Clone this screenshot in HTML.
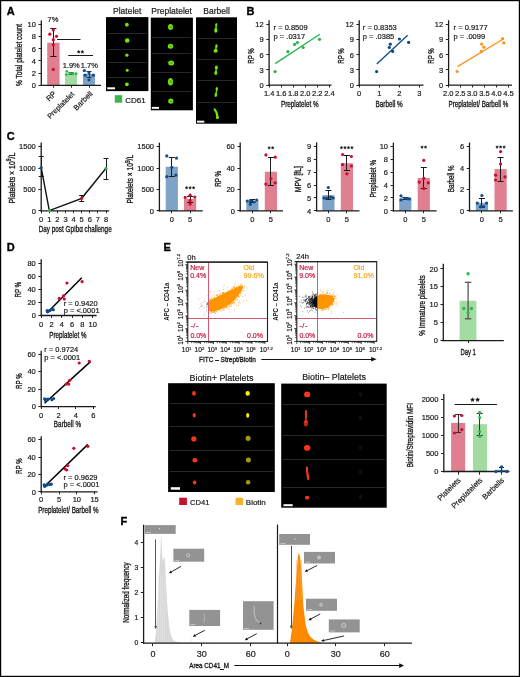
<!DOCTYPE html>
<html><head><meta charset="utf-8"><style>
html,body{margin:0;padding:0;background:#fff;}
svg{display:block;will-change:transform;}
text{font-family:"Liberation Sans",sans-serif;}
</style></head><body>
<svg width="520" height="677" viewBox="0 0 520 677" font-family="Liberation Sans, sans-serif" fill="#1a1a1a">
<defs><filter id="bl" x="-50%" y="-50%" width="200%" height="200%"><feGaussianBlur stdDeviation="0.35"/></filter></defs>
<rect x="0" y="0" width="520" height="677" fill="#fff"/>
<text x="6.8" y="15.2" font-size="11" fill="#000" font-weight="bold" stroke="#000" stroke-width="0.35">A</text>
<line x1="41.3" y1="20.4" x2="41.3" y2="85.95" stroke="#1a1a1a" stroke-width="1.3"/>
<line x1="38.5" y1="85.5" x2="41.3" y2="85.5" stroke="#222" stroke-width="1"/>
<text x="35.9" y="88" font-size="7.5" text-anchor="end" stroke="#1a1a1a" stroke-width="0.2">0</text>
<line x1="38.5" y1="73.5" x2="41.3" y2="73.5" stroke="#222" stroke-width="1"/>
<text x="35.9" y="75.84" font-size="7.5" text-anchor="end" stroke="#1a1a1a" stroke-width="0.2">2</text>
<line x1="38.5" y1="60.5" x2="41.3" y2="60.5" stroke="#222" stroke-width="1"/>
<text x="35.9" y="63.68" font-size="7.5" text-anchor="end" stroke="#1a1a1a" stroke-width="0.2">4</text>
<line x1="38.5" y1="48.5" x2="41.3" y2="48.5" stroke="#222" stroke-width="1"/>
<text x="35.9" y="51.52" font-size="7.5" text-anchor="end" stroke="#1a1a1a" stroke-width="0.2">6</text>
<line x1="38.5" y1="36.5" x2="41.3" y2="36.5" stroke="#222" stroke-width="1"/>
<text x="35.9" y="39.36" font-size="7.5" text-anchor="end" stroke="#1a1a1a" stroke-width="0.2">8</text>
<line x1="38.5" y1="24.5" x2="41.3" y2="24.5" stroke="#222" stroke-width="1"/>
<text x="35.9" y="27.2" font-size="7.5" text-anchor="end" stroke="#1a1a1a" stroke-width="0.2">10</text>
<text transform="translate(22 55) rotate(-90) scale(0.726 1)" font-size="9" text-anchor="middle" stroke="#1a1a1a" stroke-width="0.35">% Total platelet count</text>
<rect x="47.2" y="42.74" width="12.4" height="42.56" fill="#e07f8f"/>
<rect x="65" y="73.44" width="12" height="11.86" fill="#a3dca3"/>
<rect x="83" y="74.05" width="12" height="11.25" fill="#7fa3c6"/>
<line x1="40.65" y1="85.3" x2="101" y2="85.3" stroke="#1a1a1a" stroke-width="1.3"/>
<line x1="53.5" y1="85.3" x2="53.5" y2="87.7" stroke="#222" stroke-width="1"/>
<line x1="71.5" y1="85.3" x2="71.5" y2="87.7" stroke="#222" stroke-width="1"/>
<line x1="89.5" y1="85.3" x2="89.5" y2="87.7" stroke="#222" stroke-width="1"/>
<line x1="53.5" y1="28.6" x2="53.5" y2="56.5" stroke="#1a1a1a" stroke-width="1"/>
<line x1="50.3" y1="28.5" x2="56.5" y2="28.5" stroke="#1a1a1a" stroke-width="1"/>
<line x1="50.3" y1="56.5" x2="56.5" y2="56.5" stroke="#1a1a1a" stroke-width="1"/>
<line x1="71.5" y1="72.6" x2="71.5" y2="74.8" stroke="#444" stroke-width="1"/>
<line x1="68.5" y1="72.5" x2="73.5" y2="72.5" stroke="#444" stroke-width="1"/>
<line x1="68.5" y1="74.5" x2="73.5" y2="74.5" stroke="#444" stroke-width="1"/>
<line x1="89.5" y1="71.4" x2="89.5" y2="77.6" stroke="#333" stroke-width="1"/>
<line x1="86.5" y1="71.5" x2="91.5" y2="71.5" stroke="#333" stroke-width="1"/>
<line x1="86.5" y1="77.5" x2="91.5" y2="77.5" stroke="#333" stroke-width="1"/>
<circle cx="53.3" cy="29.9" r="1.6" fill="#cc0a2f"/>
<circle cx="49.8" cy="34.2" r="1.6" fill="#cc0a2f"/>
<circle cx="56.5" cy="36.3" r="1.6" fill="#cc0a2f"/>
<circle cx="53.3" cy="39.7" r="1.6" fill="#cc0a2f"/>
<circle cx="53.3" cy="44.8" r="1.6" fill="#cc0a2f"/>
<circle cx="53.3" cy="69.4" r="1.6" fill="#cc0a2f"/>
<circle cx="66.8" cy="71.4" r="1.47" fill="#2fb84c"/>
<circle cx="66.3" cy="74.6" r="1.47" fill="#2fb84c"/>
<circle cx="70.2" cy="73.4" r="1.47" fill="#2fb84c"/>
<circle cx="73" cy="73.7" r="1.47" fill="#2fb84c"/>
<circle cx="76" cy="73.7" r="1.47" fill="#2fb84c"/>
<circle cx="84.4" cy="70.6" r="1.6" fill="#0f4c8a"/>
<circle cx="89" cy="72.9" r="1.6" fill="#0f4c8a"/>
<circle cx="85.2" cy="75.2" r="1.6" fill="#0f4c8a"/>
<circle cx="93.3" cy="75.2" r="1.6" fill="#0f4c8a"/>
<circle cx="89" cy="79.8" r="1.6" fill="#0f4c8a"/>
<line x1="57" y1="39.5" x2="80.5" y2="39.5" stroke="#1a1a1a" stroke-width="1"/>
<line x1="68.3" y1="55.5" x2="93" y2="55.5" stroke="#1a1a1a" stroke-width="1"/>
<path d="M78.70 50.25L79.17 51.20L80.22 51.36L79.46 52.10L79.64 53.14L78.70 52.65L77.76 53.14L77.94 52.10L77.18 51.36L78.23 51.20ZM82.40 50.25L82.87 51.20L83.92 51.36L83.16 52.10L83.34 53.14L82.40 52.65L81.46 53.14L81.64 52.10L80.88 51.36L81.93 51.20Z" fill="#111" stroke="#111" stroke-width="0.4"/>
<text x="53" y="21.6" font-size="7.5" text-anchor="middle" stroke="#1a1a1a" stroke-width="0.2">7%</text>
<text x="71.2" y="68" font-size="7.5" text-anchor="middle" stroke="#1a1a1a" stroke-width="0.2">1.9%</text>
<text x="89.4" y="68" font-size="7.5" text-anchor="middle" stroke="#1a1a1a" stroke-width="0.2">1.7%</text>
<text transform="translate(56.8 94.2) rotate(-45)" font-size="7.8" text-anchor="end" stroke="#1a1a1a" stroke-width="0.2">RP</text>
<text transform="translate(74.8 94.6) rotate(-45)" font-size="7.3" text-anchor="end" stroke="#1a1a1a" stroke-width="0.2">Preplatelet</text>
<text transform="translate(93.2 94.2) rotate(-45)" font-size="7.6" text-anchor="end" stroke="#1a1a1a" stroke-width="0.2">Barbell</text>
<text x="127.2" y="14.2" font-size="8.5" text-anchor="middle" stroke="#1a1a1a" stroke-width="0.2">Platelet</text>
<text x="171.6" y="14.2" font-size="8.5" text-anchor="middle" stroke="#1a1a1a" stroke-width="0.2">Preplatelet</text>
<text x="216.6" y="14.2" font-size="8.5" text-anchor="middle" stroke="#1a1a1a" stroke-width="0.2">Barbell</text>
<rect x="106" y="17.1" width="42.4" height="74" fill="#000"/>
<line x1="107.5" y1="33.5" x2="146.9" y2="33.5" stroke="#262626" stroke-width="1"/>
<line x1="107.5" y1="49.5" x2="146.9" y2="49.5" stroke="#262626" stroke-width="1"/>
<line x1="107.5" y1="62.5" x2="146.9" y2="62.5" stroke="#262626" stroke-width="1"/>
<line x1="107.5" y1="77.5" x2="146.9" y2="77.5" stroke="#262626" stroke-width="1"/>
<rect x="107.2" y="87.3" width="7.8" height="2" fill="#fff"/>
<rect x="150.8" y="17.6" width="42.1" height="92.7" fill="#000"/>
<line x1="152.3" y1="37.5" x2="191.4" y2="37.5" stroke="#262626" stroke-width="1"/>
<line x1="152.3" y1="53.5" x2="191.4" y2="53.5" stroke="#262626" stroke-width="1"/>
<line x1="152.3" y1="72.5" x2="191.4" y2="72.5" stroke="#262626" stroke-width="1"/>
<line x1="152.3" y1="91.5" x2="191.4" y2="91.5" stroke="#262626" stroke-width="1"/>
<rect x="151.8" y="106.9" width="7.2" height="1.9" fill="#fff"/>
<rect x="196" y="17.3" width="41" height="106.4" fill="#000"/>
<line x1="197.5" y1="38.5" x2="235.5" y2="38.5" stroke="#262626" stroke-width="1"/>
<line x1="197.5" y1="59.5" x2="235.5" y2="59.5" stroke="#262626" stroke-width="1"/>
<line x1="197.5" y1="80.5" x2="235.5" y2="80.5" stroke="#262626" stroke-width="1"/>
<line x1="197.5" y1="102.5" x2="235.5" y2="102.5" stroke="#262626" stroke-width="1"/>
<rect x="197" y="120.7" width="7.3" height="1.9" fill="#fff"/>
<ellipse cx="126.9" cy="24.7" rx="1.9" ry="1.9" fill="#74e600" filter="url(#bl)"/>
<ellipse cx="127.2" cy="40.5" rx="2.3" ry="2.3" fill="#74e600" filter="url(#bl)"/>
<ellipse cx="126.9" cy="55.2" rx="1.6" ry="1.6" fill="#74e600" filter="url(#bl)"/>
<ellipse cx="127.2" cy="70.3" rx="1.5" ry="1.5" fill="#74e600" filter="url(#bl)"/>
<ellipse cx="126.9" cy="84.3" rx="1.9" ry="1.9" fill="#74e600" filter="url(#bl)"/>
<ellipse cx="170.5" cy="27" rx="2.5" ry="2.9" fill="#74e600" filter="url(#bl)"/>
<ellipse cx="170.7" cy="27.1" rx="1.12" ry="1.3" fill="#4fb000" filter="url(#bl)"/>
<ellipse cx="170.5" cy="46.2" rx="2.7" ry="2.5" fill="#74e600" filter="url(#bl)"/>
<ellipse cx="170.7" cy="46.3" rx="1.22" ry="1.12" fill="#4fb000" filter="url(#bl)"/>
<ellipse cx="171.2" cy="62.9" rx="2.9" ry="2.5" fill="#74e600" filter="url(#bl)"/>
<ellipse cx="171.4" cy="63" rx="1.3" ry="1.12" fill="#4fb000" filter="url(#bl)"/>
<ellipse cx="170.5" cy="81.7" rx="2.5" ry="3.8" fill="#74e600" filter="url(#bl)"/>
<ellipse cx="170.7" cy="81.8" rx="1.12" ry="1.71" fill="#4fb000" filter="url(#bl)"/>
<ellipse cx="170.8" cy="101.1" rx="2.6" ry="2.6" fill="#74e600" filter="url(#bl)"/>
<ellipse cx="171" cy="101.2" rx="1.17" ry="1.17" fill="#4fb000" filter="url(#bl)"/>
<line x1="167.5" y1="62" x2="170" y2="63.2" stroke="#74e600" stroke-width="0.8" filter="url(#bl)"/>
<g filter="url(#bl)">
<ellipse cx="216.3" cy="24.6" rx="1" ry="1.7" fill="#74e600"/>
<ellipse cx="215.8" cy="30.4" rx="1.6" ry="2.3" fill="#74e600"/>
<line x1="216.3" y1="24.6" x2="215.8" y2="30.4" stroke="#74e600" stroke-width="1.5"/>
</g>
<g filter="url(#bl)">
<ellipse cx="216.4" cy="46" rx="1.2" ry="1.7" fill="#74e600"/>
<ellipse cx="215.6" cy="50.9" rx="2.1" ry="1.8" fill="#74e600"/>
<line x1="216.4" y1="46" x2="215.6" y2="50.9" stroke="#74e600" stroke-width="1.5"/>
</g>
<g filter="url(#bl)">
<ellipse cx="216.4" cy="67.4" rx="1.5" ry="2" fill="#74e600"/>
<ellipse cx="215.8" cy="72.9" rx="1.5" ry="2" fill="#74e600"/>
<line x1="216.4" y1="67.4" x2="215.8" y2="72.9" stroke="#74e600" stroke-width="1.4"/>
</g>
<g filter="url(#bl)">
<ellipse cx="216.8" cy="88.8" rx="1.2" ry="1.9" fill="#74e600"/>
<ellipse cx="215.8" cy="95" rx="1.3" ry="2.1" fill="#74e600"/>
<line x1="216.8" y1="88.8" x2="215.8" y2="95" stroke="#74e600" stroke-width="1.3"/>
</g>
<path d="M214.6 109.4 Q217.6 112.8 217.3 117.6" fill="none" stroke="#74e600" stroke-width="2.1" stroke-linecap="round" filter="url(#bl)"/>
<ellipse cx="217.4" cy="117.4" rx="1.5" ry="1.7" fill="#74e600" filter="url(#bl)"/>
<rect x="114.8" y="95.2" width="7.4" height="7.5" fill="#3cb44b"/>
<text x="125.2" y="102.6" font-size="8" stroke="#1a1a1a" stroke-width="0.2">CD61</text>
<text x="246.6" y="14.9" font-size="11" fill="#000" font-weight="bold" stroke="#000" stroke-width="0.35">B</text>
<line x1="269.1" y1="20.2" x2="269.1" y2="85.75" stroke="#1a1a1a" stroke-width="1.3"/>
<line x1="266.3" y1="85.5" x2="269.1" y2="85.5" stroke="#222" stroke-width="1"/>
<text x="263.7" y="87.8" font-size="7.5" text-anchor="end" stroke="#1a1a1a" stroke-width="0.2">0</text>
<line x1="266.3" y1="69.5" x2="269.1" y2="69.5" stroke="#222" stroke-width="1"/>
<text x="263.7" y="72.65" font-size="7.5" text-anchor="end" stroke="#1a1a1a" stroke-width="0.2">3</text>
<line x1="266.3" y1="54.5" x2="269.1" y2="54.5" stroke="#222" stroke-width="1"/>
<text x="263.7" y="57.5" font-size="7.5" text-anchor="end" stroke="#1a1a1a" stroke-width="0.2">6</text>
<line x1="266.3" y1="39.5" x2="269.1" y2="39.5" stroke="#222" stroke-width="1"/>
<text x="263.7" y="42.35" font-size="7.5" text-anchor="end" stroke="#1a1a1a" stroke-width="0.2">9</text>
<line x1="266.3" y1="24.5" x2="269.1" y2="24.5" stroke="#222" stroke-width="1"/>
<text x="263.7" y="27.2" font-size="7.5" text-anchor="end" stroke="#1a1a1a" stroke-width="0.2">12</text>
<line x1="268.45" y1="85.1" x2="331.5" y2="85.1" stroke="#1a1a1a" stroke-width="1.3"/>
<line x1="269.5" y1="85.1" x2="269.5" y2="87.5" stroke="#222" stroke-width="1"/>
<text x="269.1" y="96.2" font-size="7.5" text-anchor="middle" stroke="#1a1a1a" stroke-width="0.2">1.4</text>
<line x1="281.5" y1="85.1" x2="281.5" y2="87.5" stroke="#222" stroke-width="1"/>
<text x="281.15" y="96.2" font-size="7.5" text-anchor="middle" stroke="#1a1a1a" stroke-width="0.2">1.6</text>
<line x1="293.5" y1="85.1" x2="293.5" y2="87.5" stroke="#222" stroke-width="1"/>
<text x="293.2" y="96.2" font-size="7.5" text-anchor="middle" stroke="#1a1a1a" stroke-width="0.2">1.8</text>
<line x1="305.5" y1="85.1" x2="305.5" y2="87.5" stroke="#222" stroke-width="1"/>
<text x="305.25" y="96.2" font-size="7.5" text-anchor="middle" stroke="#1a1a1a" stroke-width="0.2">2.0</text>
<line x1="317.5" y1="85.1" x2="317.5" y2="87.5" stroke="#222" stroke-width="1"/>
<text x="317.3" y="96.2" font-size="7.5" text-anchor="middle" stroke="#1a1a1a" stroke-width="0.2">2.2</text>
<line x1="329.5" y1="85.1" x2="329.5" y2="87.5" stroke="#222" stroke-width="1"/>
<text x="329.35" y="96.2" font-size="7.5" text-anchor="middle" stroke="#1a1a1a" stroke-width="0.2">2.4</text>
<text transform="translate(254.1 56) rotate(-90) scale(0.640 1)" font-size="9.6" text-anchor="middle" stroke="#1a1a1a" stroke-width="0.35">RP %</text>
<text transform="translate(299.75 107.1) scale(0.704 1)" font-size="9" text-anchor="middle" stroke="#1a1a1a" stroke-width="0.35">Preplatelet %</text>
<line x1="275.2" y1="63.6" x2="319.8" y2="34.3" stroke="#2ab34a" stroke-width="1.3"/>
<circle cx="275.1" cy="71.6" r="1.6" fill="#2ab34a"/>
<circle cx="287.9" cy="51.7" r="1.6" fill="#2ab34a"/>
<circle cx="294.6" cy="44.4" r="1.6" fill="#2ab34a"/>
<circle cx="297.4" cy="42.5" r="1.6" fill="#2ab34a"/>
<circle cx="303.2" cy="47.5" r="1.6" fill="#2ab34a"/>
<circle cx="319.5" cy="39.3" r="1.6" fill="#2ab34a"/>
<text x="273.6" y="29.6" font-size="7.5" stroke="#1a1a1a" stroke-width="0.2">r = 0.8509</text>
<text x="273.6" y="39.4" font-size="7.5" stroke="#1a1a1a" stroke-width="0.2">p = .0317</text>
<line x1="359.2" y1="20.2" x2="359.2" y2="85.75" stroke="#1a1a1a" stroke-width="1.3"/>
<line x1="356.4" y1="85.5" x2="359.2" y2="85.5" stroke="#222" stroke-width="1"/>
<text x="353.8" y="87.8" font-size="7.5" text-anchor="end" stroke="#1a1a1a" stroke-width="0.2">0</text>
<line x1="356.4" y1="69.5" x2="359.2" y2="69.5" stroke="#222" stroke-width="1"/>
<text x="353.8" y="72.65" font-size="7.5" text-anchor="end" stroke="#1a1a1a" stroke-width="0.2">3</text>
<line x1="356.4" y1="54.5" x2="359.2" y2="54.5" stroke="#222" stroke-width="1"/>
<text x="353.8" y="57.5" font-size="7.5" text-anchor="end" stroke="#1a1a1a" stroke-width="0.2">6</text>
<line x1="356.4" y1="39.5" x2="359.2" y2="39.5" stroke="#222" stroke-width="1"/>
<text x="353.8" y="42.35" font-size="7.5" text-anchor="end" stroke="#1a1a1a" stroke-width="0.2">9</text>
<line x1="356.4" y1="24.5" x2="359.2" y2="24.5" stroke="#222" stroke-width="1"/>
<text x="353.8" y="27.2" font-size="7.5" text-anchor="end" stroke="#1a1a1a" stroke-width="0.2">12</text>
<line x1="358.55" y1="85.1" x2="423.5" y2="85.1" stroke="#1a1a1a" stroke-width="1.3"/>
<line x1="359.5" y1="85.1" x2="359.5" y2="87.5" stroke="#222" stroke-width="1"/>
<text x="359.2" y="96.2" font-size="7.5" text-anchor="middle" stroke="#1a1a1a" stroke-width="0.2">0</text>
<line x1="379.5" y1="85.1" x2="379.5" y2="87.5" stroke="#222" stroke-width="1"/>
<text x="379.25" y="96.2" font-size="7.5" text-anchor="middle" stroke="#1a1a1a" stroke-width="0.2">1</text>
<line x1="399.5" y1="85.1" x2="399.5" y2="87.5" stroke="#222" stroke-width="1"/>
<text x="399.3" y="96.2" font-size="7.5" text-anchor="middle" stroke="#1a1a1a" stroke-width="0.2">2</text>
<line x1="419.5" y1="85.1" x2="419.5" y2="87.5" stroke="#222" stroke-width="1"/>
<text x="419.35" y="96.2" font-size="7.5" text-anchor="middle" stroke="#1a1a1a" stroke-width="0.2">3</text>
<text transform="translate(344.2 56) rotate(-90) scale(0.640 1)" font-size="9.6" text-anchor="middle" stroke="#1a1a1a" stroke-width="0.35">RP %</text>
<text transform="translate(389.15 107.1) scale(0.709 1)" font-size="9" text-anchor="middle" stroke="#1a1a1a" stroke-width="0.35">Barbell %</text>
<line x1="376.8" y1="63.9" x2="407.6" y2="35.3" stroke="#0c4d8d" stroke-width="1.3"/>
<circle cx="376.6" cy="71.6" r="1.6" fill="#0c4d8d"/>
<circle cx="389.3" cy="47.4" r="1.6" fill="#0c4d8d"/>
<circle cx="390.3" cy="44.2" r="1.6" fill="#0c4d8d"/>
<circle cx="392.7" cy="51.4" r="1.6" fill="#0c4d8d"/>
<circle cx="399.4" cy="39" r="1.6" fill="#0c4d8d"/>
<circle cx="408.6" cy="42.4" r="1.6" fill="#0c4d8d"/>
<text x="362.8" y="29.6" font-size="7.5" stroke="#1a1a1a" stroke-width="0.2">r = 0.8353</text>
<text x="362.8" y="39.4" font-size="7.5" stroke="#1a1a1a" stroke-width="0.2">p = .0385</text>
<line x1="448.6" y1="20.2" x2="448.6" y2="85.75" stroke="#1a1a1a" stroke-width="1.3"/>
<line x1="445.8" y1="85.5" x2="448.6" y2="85.5" stroke="#222" stroke-width="1"/>
<text x="443.2" y="87.8" font-size="7.5" text-anchor="end" stroke="#1a1a1a" stroke-width="0.2">0</text>
<line x1="445.8" y1="69.5" x2="448.6" y2="69.5" stroke="#222" stroke-width="1"/>
<text x="443.2" y="72.65" font-size="7.5" text-anchor="end" stroke="#1a1a1a" stroke-width="0.2">3</text>
<line x1="445.8" y1="54.5" x2="448.6" y2="54.5" stroke="#222" stroke-width="1"/>
<text x="443.2" y="57.5" font-size="7.5" text-anchor="end" stroke="#1a1a1a" stroke-width="0.2">6</text>
<line x1="445.8" y1="39.5" x2="448.6" y2="39.5" stroke="#222" stroke-width="1"/>
<text x="443.2" y="42.35" font-size="7.5" text-anchor="end" stroke="#1a1a1a" stroke-width="0.2">9</text>
<line x1="445.8" y1="24.5" x2="448.6" y2="24.5" stroke="#222" stroke-width="1"/>
<text x="443.2" y="27.2" font-size="7.5" text-anchor="end" stroke="#1a1a1a" stroke-width="0.2">12</text>
<line x1="447.95" y1="85.1" x2="512" y2="85.1" stroke="#1a1a1a" stroke-width="1.3"/>
<line x1="448.5" y1="85.1" x2="448.5" y2="87.5" stroke="#222" stroke-width="1"/>
<text x="448.2" y="96.2" font-size="7.5" text-anchor="middle" stroke="#1a1a1a" stroke-width="0.2">2.0</text>
<line x1="460.5" y1="85.1" x2="460.5" y2="87.5" stroke="#222" stroke-width="1"/>
<text x="460.27" y="96.2" font-size="7.5" text-anchor="middle" stroke="#1a1a1a" stroke-width="0.2">2.5</text>
<line x1="472.5" y1="85.1" x2="472.5" y2="87.5" stroke="#222" stroke-width="1"/>
<text x="472.34" y="96.2" font-size="7.5" text-anchor="middle" stroke="#1a1a1a" stroke-width="0.2">3.0</text>
<line x1="484.5" y1="85.1" x2="484.5" y2="87.5" stroke="#222" stroke-width="1"/>
<text x="484.41" y="96.2" font-size="7.5" text-anchor="middle" stroke="#1a1a1a" stroke-width="0.2">3.5</text>
<line x1="496.5" y1="85.1" x2="496.5" y2="87.5" stroke="#222" stroke-width="1"/>
<text x="496.48" y="96.2" font-size="7.5" text-anchor="middle" stroke="#1a1a1a" stroke-width="0.2">4.0</text>
<line x1="508.5" y1="85.1" x2="508.5" y2="87.5" stroke="#222" stroke-width="1"/>
<text x="508.55" y="96.2" font-size="7.5" text-anchor="middle" stroke="#1a1a1a" stroke-width="0.2">4.5</text>
<text transform="translate(433.6 56) rotate(-90) scale(0.640 1)" font-size="9.6" text-anchor="middle" stroke="#1a1a1a" stroke-width="0.35">RP %</text>
<text transform="translate(478.35 107.1) scale(0.692 1)" font-size="9" text-anchor="middle" stroke="#1a1a1a" stroke-width="0.35">Preplatelet/ Barbell %</text>
<line x1="457.4" y1="66.6" x2="502.9" y2="39.2" stroke="#f7931e" stroke-width="1.3"/>
<circle cx="457.1" cy="71.5" r="1.6" fill="#f7931e"/>
<circle cx="481.3" cy="51.3" r="1.6" fill="#f7931e"/>
<circle cx="481.6" cy="44.1" r="1.6" fill="#f7931e"/>
<circle cx="483.8" cy="47.2" r="1.6" fill="#f7931e"/>
<circle cx="502.6" cy="38.7" r="1.6" fill="#f7931e"/>
<circle cx="503.8" cy="42.8" r="1.6" fill="#f7931e"/>
<text x="453.6" y="29.6" font-size="7.5" stroke="#1a1a1a" stroke-width="0.2">r = 0.9177</text>
<text x="453.6" y="39.4" font-size="7.5" stroke="#1a1a1a" stroke-width="0.2">p = .0099</text>
<text x="6.8" y="139.5" font-size="11" fill="#000" font-weight="bold" stroke="#000" stroke-width="0.35">C</text>
<line x1="41.2" y1="142.6" x2="41.2" y2="211.45" stroke="#1a1a1a" stroke-width="1.3"/>
<line x1="38.4" y1="210.5" x2="41.2" y2="210.5" stroke="#222" stroke-width="1"/>
<text x="35.8" y="213.5" font-size="7.5" text-anchor="end" stroke="#1a1a1a" stroke-width="0.2">0</text>
<line x1="38.4" y1="189.5" x2="41.2" y2="189.5" stroke="#222" stroke-width="1"/>
<text x="35.8" y="192.1" font-size="7.5" text-anchor="end" stroke="#1a1a1a" stroke-width="0.2">500</text>
<line x1="38.4" y1="168.5" x2="41.2" y2="168.5" stroke="#222" stroke-width="1"/>
<text x="35.8" y="170.7" font-size="7.5" text-anchor="end" stroke="#1a1a1a" stroke-width="0.2">1000</text>
<line x1="38.4" y1="146.5" x2="41.2" y2="146.5" stroke="#222" stroke-width="1"/>
<text x="35.8" y="149.3" font-size="7.5" text-anchor="end" stroke="#1a1a1a" stroke-width="0.2">1500</text>
<line x1="40.55" y1="210.8" x2="109.2" y2="210.8" stroke="#1a1a1a" stroke-width="1.3"/>
<line x1="41.5" y1="210.8" x2="41.5" y2="213.2" stroke="#222" stroke-width="1"/>
<text x="41.2" y="221.5" font-size="7.5" text-anchor="middle" stroke="#1a1a1a" stroke-width="0.2">0</text>
<line x1="49.5" y1="210.8" x2="49.5" y2="213.2" stroke="#222" stroke-width="1"/>
<text x="49.3" y="221.5" font-size="7.5" text-anchor="middle" stroke="#1a1a1a" stroke-width="0.2">1</text>
<line x1="57.5" y1="210.8" x2="57.5" y2="213.2" stroke="#222" stroke-width="1"/>
<text x="57.4" y="221.5" font-size="7.5" text-anchor="middle" stroke="#1a1a1a" stroke-width="0.2">2</text>
<line x1="65.5" y1="210.8" x2="65.5" y2="213.2" stroke="#222" stroke-width="1"/>
<text x="65.5" y="221.5" font-size="7.5" text-anchor="middle" stroke="#1a1a1a" stroke-width="0.2">3</text>
<line x1="73.5" y1="210.8" x2="73.5" y2="213.2" stroke="#222" stroke-width="1"/>
<text x="73.6" y="221.5" font-size="7.5" text-anchor="middle" stroke="#1a1a1a" stroke-width="0.2">4</text>
<line x1="81.5" y1="210.8" x2="81.5" y2="213.2" stroke="#222" stroke-width="1"/>
<text x="81.7" y="221.5" font-size="7.5" text-anchor="middle" stroke="#1a1a1a" stroke-width="0.2">5</text>
<line x1="89.5" y1="210.8" x2="89.5" y2="213.2" stroke="#222" stroke-width="1"/>
<text x="89.8" y="221.5" font-size="7.5" text-anchor="middle" stroke="#1a1a1a" stroke-width="0.2">6</text>
<line x1="97.5" y1="210.8" x2="97.5" y2="213.2" stroke="#222" stroke-width="1"/>
<text x="97.9" y="221.5" font-size="7.5" text-anchor="middle" stroke="#1a1a1a" stroke-width="0.2">7</text>
<line x1="106.5" y1="210.8" x2="106.5" y2="213.2" stroke="#222" stroke-width="1"/>
<text x="106" y="221.5" font-size="7.5" text-anchor="middle" stroke="#1a1a1a" stroke-width="0.2">8</text>
<text transform="translate(75.2 232.2) scale(0.704 1)" font-size="9" text-anchor="middle" stroke="#1a1a1a" stroke-width="0.35">Day post GpIb&#945; challenge</text>
<text transform="translate(14.6 178.1) rotate(-90) scale(0.774 1)" font-size="9" text-anchor="middle" stroke="#1a1a1a" stroke-width="0.35">Platelets &#215; 10<tspan font-size="6.5" dy="-3.4">9</tspan><tspan dy="3.4">/L</tspan></text>
<line x1="41.5" y1="156.4" x2="41.5" y2="176" stroke="#1a1a1a" stroke-width="1"/>
<line x1="38.7" y1="156.5" x2="43.7" y2="156.5" stroke="#1a1a1a" stroke-width="1"/>
<line x1="38.7" y1="176.5" x2="43.7" y2="176.5" stroke="#1a1a1a" stroke-width="1"/>
<line x1="81.5" y1="195" x2="81.5" y2="201.6" stroke="#1a1a1a" stroke-width="1"/>
<line x1="79.2" y1="195.5" x2="84.2" y2="195.5" stroke="#1a1a1a" stroke-width="1"/>
<line x1="79.2" y1="201.5" x2="84.2" y2="201.5" stroke="#1a1a1a" stroke-width="1"/>
<line x1="106.5" y1="158" x2="106.5" y2="179" stroke="#1a1a1a" stroke-width="1"/>
<line x1="103.5" y1="158.5" x2="108.5" y2="158.5" stroke="#1a1a1a" stroke-width="1"/>
<line x1="103.5" y1="179.5" x2="108.5" y2="179.5" stroke="#1a1a1a" stroke-width="1"/>
<path d="M41.2 167.7 L49.3 210.6 L81.7 198.3 L106 168.3" fill="none" stroke="#111" stroke-width="1.4"/>
<circle cx="41.2" cy="167.7" r="1.6" fill="#0f4c8a"/>
<circle cx="49.3" cy="210.6" r="1.6" fill="#2fb84c"/>
<circle cx="81.7" cy="198.3" r="1.6" fill="#cc0a2f"/>
<circle cx="106" cy="168.3" r="1.6" fill="#2fb84c"/>
<line x1="159.4" y1="142.6" x2="159.4" y2="211.45" stroke="#1a1a1a" stroke-width="1.3"/>
<line x1="156.6" y1="210.5" x2="159.4" y2="210.5" stroke="#222" stroke-width="1"/>
<text x="154" y="213.5" font-size="7.5" text-anchor="end" stroke="#1a1a1a" stroke-width="0.2">0</text>
<line x1="156.6" y1="189.5" x2="159.4" y2="189.5" stroke="#222" stroke-width="1"/>
<text x="154" y="192.1" font-size="7.5" text-anchor="end" stroke="#1a1a1a" stroke-width="0.2">500</text>
<line x1="156.6" y1="168.5" x2="159.4" y2="168.5" stroke="#222" stroke-width="1"/>
<text x="154" y="170.7" font-size="7.5" text-anchor="end" stroke="#1a1a1a" stroke-width="0.2">1000</text>
<line x1="156.6" y1="146.5" x2="159.4" y2="146.5" stroke="#222" stroke-width="1"/>
<text x="154" y="149.3" font-size="7.5" text-anchor="end" stroke="#1a1a1a" stroke-width="0.2">1500</text>
<rect x="165.7" y="166.72" width="12.2" height="44.08" fill="#7fa3c6"/>
<rect x="184" y="198.82" width="12.2" height="11.98" fill="#e07f8f"/>
<line x1="158.75" y1="210.8" x2="202.8" y2="210.8" stroke="#1a1a1a" stroke-width="1.3"/>
<line x1="171.5" y1="210.8" x2="171.5" y2="213.2" stroke="#222" stroke-width="1"/>
<text x="171.8" y="221.8" font-size="7.5" text-anchor="middle" stroke="#1a1a1a" stroke-width="0.2">0</text>
<line x1="190.5" y1="210.8" x2="190.5" y2="213.2" stroke="#222" stroke-width="1"/>
<text x="190.1" y="221.8" font-size="7.5" text-anchor="middle" stroke="#1a1a1a" stroke-width="0.2">5</text>
<line x1="171.5" y1="157.09" x2="171.5" y2="176.56" stroke="#1a1a1a" stroke-width="1"/>
<line x1="168.8" y1="157.5" x2="174.8" y2="157.5" stroke="#1a1a1a" stroke-width="1"/>
<line x1="168.8" y1="176.5" x2="174.8" y2="176.5" stroke="#1a1a1a" stroke-width="1"/>
<line x1="190.5" y1="196.25" x2="190.5" y2="202.03" stroke="#1a1a1a" stroke-width="1"/>
<line x1="187.1" y1="196.5" x2="193.1" y2="196.5" stroke="#1a1a1a" stroke-width="1"/>
<line x1="187.1" y1="202.5" x2="193.1" y2="202.5" stroke="#1a1a1a" stroke-width="1"/>
<circle cx="166.8" cy="155.9" r="1.6" fill="#0f4c8a"/>
<circle cx="176.5" cy="158.1" r="1.6" fill="#0f4c8a"/>
<circle cx="171.8" cy="167.3" r="1.6" fill="#0f4c8a"/>
<circle cx="166.8" cy="176.7" r="1.6" fill="#0f4c8a"/>
<circle cx="175.9" cy="175.1" r="1.6" fill="#0f4c8a"/>
<circle cx="190.1" cy="195.2" r="1.6" fill="#cc0a2f"/>
<circle cx="185.2" cy="197.4" r="1.6" fill="#cc0a2f"/>
<circle cx="194.8" cy="197.1" r="1.6" fill="#cc0a2f"/>
<circle cx="190.1" cy="200.6" r="1.6" fill="#cc0a2f"/>
<circle cx="190.1" cy="204.1" r="1.6" fill="#cc0a2f"/>
<path d="M186.60 186.30L187.03 187.16L187.98 187.30L187.29 187.97L187.45 188.92L186.60 188.47L185.75 188.92L185.91 187.97L185.22 187.30L186.17 187.16ZM190.10 186.30L190.53 187.16L191.48 187.30L190.79 187.97L190.95 188.92L190.10 188.47L189.25 188.92L189.41 187.97L188.72 187.30L189.67 187.16ZM193.60 186.30L194.03 187.16L194.98 187.30L194.29 187.97L194.45 188.92L193.60 188.47L192.75 188.92L192.91 187.97L192.22 187.30L193.17 187.16Z" fill="#111" stroke="#111" stroke-width="0.4"/>
<text transform="translate(133.2 179.2) rotate(-90) scale(0.742 1)" font-size="9" text-anchor="middle" stroke="#1a1a1a" stroke-width="0.35">Platelets &#215; 10<tspan font-size="6.5" dy="-3.4">9</tspan><tspan dy="3.4">/L</tspan></text>
<line x1="240.2" y1="142.6" x2="240.2" y2="211.45" stroke="#1a1a1a" stroke-width="1.3"/>
<line x1="237.4" y1="210.5" x2="240.2" y2="210.5" stroke="#222" stroke-width="1"/>
<text x="234.8" y="213.5" font-size="7.5" text-anchor="end" stroke="#1a1a1a" stroke-width="0.2">0</text>
<line x1="237.4" y1="189.5" x2="240.2" y2="189.5" stroke="#222" stroke-width="1"/>
<text x="234.8" y="192.1" font-size="7.5" text-anchor="end" stroke="#1a1a1a" stroke-width="0.2">20</text>
<line x1="237.4" y1="168.5" x2="240.2" y2="168.5" stroke="#222" stroke-width="1"/>
<text x="234.8" y="170.7" font-size="7.5" text-anchor="end" stroke="#1a1a1a" stroke-width="0.2">40</text>
<line x1="237.4" y1="146.5" x2="240.2" y2="146.5" stroke="#222" stroke-width="1"/>
<text x="234.8" y="149.3" font-size="7.5" text-anchor="end" stroke="#1a1a1a" stroke-width="0.2">60</text>
<rect x="246.3" y="200.96" width="12.2" height="9.84" fill="#7fa3c6"/>
<rect x="264.8" y="171.75" width="12.2" height="39.06" fill="#e07f8f"/>
<line x1="239.55" y1="210.8" x2="283" y2="210.8" stroke="#1a1a1a" stroke-width="1.3"/>
<line x1="252.5" y1="210.8" x2="252.5" y2="213.2" stroke="#222" stroke-width="1"/>
<text x="252.4" y="221.8" font-size="7.5" text-anchor="middle" stroke="#1a1a1a" stroke-width="0.2">0</text>
<line x1="270.5" y1="210.8" x2="270.5" y2="213.2" stroke="#222" stroke-width="1"/>
<text x="270.9" y="221.8" font-size="7.5" text-anchor="middle" stroke="#1a1a1a" stroke-width="0.2">5</text>
<line x1="252.5" y1="199.56" x2="252.5" y2="202.24" stroke="#1a1a1a" stroke-width="1"/>
<line x1="249.4" y1="199.5" x2="255.4" y2="199.5" stroke="#1a1a1a" stroke-width="1"/>
<line x1="249.4" y1="202.5" x2="255.4" y2="202.5" stroke="#1a1a1a" stroke-width="1"/>
<line x1="270.5" y1="157.09" x2="270.5" y2="185.66" stroke="#1a1a1a" stroke-width="1"/>
<line x1="267.9" y1="157.5" x2="273.9" y2="157.5" stroke="#1a1a1a" stroke-width="1"/>
<line x1="267.9" y1="185.5" x2="273.9" y2="185.5" stroke="#1a1a1a" stroke-width="1"/>
<circle cx="247.3" cy="201" r="1.6" fill="#0f4c8a"/>
<circle cx="250.7" cy="200.7" r="1.6" fill="#0f4c8a"/>
<circle cx="256.7" cy="200" r="1.6" fill="#0f4c8a"/>
<circle cx="250.3" cy="204.3" r="1.6" fill="#0f4c8a"/>
<circle cx="254" cy="202" r="1.6" fill="#0f4c8a"/>
<circle cx="265.9" cy="154.9" r="1.6" fill="#cc0a2f"/>
<circle cx="275.2" cy="157.2" r="1.6" fill="#cc0a2f"/>
<circle cx="270.9" cy="178.7" r="1.6" fill="#cc0a2f"/>
<circle cx="265.9" cy="184.1" r="1.6" fill="#cc0a2f"/>
<circle cx="275.2" cy="182.8" r="1.6" fill="#cc0a2f"/>
<path d="M269.15 146.40L269.58 147.26L270.53 147.40L269.84 148.07L270.00 149.02L269.15 148.57L268.30 149.02L268.46 148.07L267.77 147.40L268.72 147.26ZM272.65 146.40L273.08 147.26L274.03 147.40L273.34 148.07L273.50 149.02L272.65 148.57L271.80 149.02L271.96 148.07L271.27 147.40L272.22 147.26Z" fill="#111" stroke="#111" stroke-width="0.4"/>
<text transform="translate(220.6 178.8) rotate(-90) scale(0.647 1)" font-size="9.8" text-anchor="middle" stroke="#1a1a1a" stroke-width="0.35">RP %</text>
<line x1="316.6" y1="142.4" x2="316.6" y2="211.45" stroke="#1a1a1a" stroke-width="1.3"/>
<line x1="313.8" y1="210.5" x2="316.6" y2="210.5" stroke="#222" stroke-width="1"/>
<text x="311.2" y="213.5" font-size="7.5" text-anchor="end" stroke="#1a1a1a" stroke-width="0.2">4</text>
<line x1="313.8" y1="197.5" x2="316.6" y2="197.5" stroke="#222" stroke-width="1"/>
<text x="311.2" y="200.66" font-size="7.5" text-anchor="end" stroke="#1a1a1a" stroke-width="0.2">5</text>
<line x1="313.8" y1="185.5" x2="316.6" y2="185.5" stroke="#222" stroke-width="1"/>
<text x="311.2" y="187.82" font-size="7.5" text-anchor="end" stroke="#1a1a1a" stroke-width="0.2">6</text>
<line x1="313.8" y1="172.5" x2="316.6" y2="172.5" stroke="#222" stroke-width="1"/>
<text x="311.2" y="174.98" font-size="7.5" text-anchor="end" stroke="#1a1a1a" stroke-width="0.2">7</text>
<line x1="313.8" y1="159.5" x2="316.6" y2="159.5" stroke="#222" stroke-width="1"/>
<text x="311.2" y="162.14" font-size="7.5" text-anchor="end" stroke="#1a1a1a" stroke-width="0.2">8</text>
<line x1="313.8" y1="146.5" x2="316.6" y2="146.5" stroke="#222" stroke-width="1"/>
<text x="311.2" y="149.3" font-size="7.5" text-anchor="end" stroke="#1a1a1a" stroke-width="0.2">9</text>
<rect x="322.3" y="195.14" width="12.2" height="15.66" fill="#7fa3c6"/>
<rect x="340.8" y="163.29" width="12.2" height="47.51" fill="#e07f8f"/>
<line x1="315.95" y1="210.8" x2="359.5" y2="210.8" stroke="#1a1a1a" stroke-width="1.3"/>
<line x1="328.5" y1="210.8" x2="328.5" y2="213.2" stroke="#222" stroke-width="1"/>
<text x="328.4" y="221.8" font-size="7.5" text-anchor="middle" stroke="#1a1a1a" stroke-width="0.2">0</text>
<line x1="346.5" y1="210.8" x2="346.5" y2="213.2" stroke="#222" stroke-width="1"/>
<text x="346.9" y="221.8" font-size="7.5" text-anchor="middle" stroke="#1a1a1a" stroke-width="0.2">5</text>
<line x1="328.5" y1="190.51" x2="328.5" y2="199.24" stroke="#1a1a1a" stroke-width="1"/>
<line x1="325.4" y1="190.5" x2="331.4" y2="190.5" stroke="#1a1a1a" stroke-width="1"/>
<line x1="325.4" y1="199.5" x2="331.4" y2="199.5" stroke="#1a1a1a" stroke-width="1"/>
<line x1="346.5" y1="155.2" x2="346.5" y2="170.61" stroke="#1a1a1a" stroke-width="1"/>
<line x1="343.9" y1="155.5" x2="349.9" y2="155.5" stroke="#1a1a1a" stroke-width="1"/>
<line x1="343.9" y1="170.5" x2="349.9" y2="170.5" stroke="#1a1a1a" stroke-width="1"/>
<circle cx="328.3" cy="187.5" r="1.6" fill="#0f4c8a"/>
<circle cx="324" cy="198" r="1.6" fill="#0f4c8a"/>
<circle cx="326.7" cy="198" r="1.6" fill="#0f4c8a"/>
<circle cx="330.8" cy="197.2" r="1.6" fill="#0f4c8a"/>
<circle cx="333.2" cy="198" r="1.6" fill="#0f4c8a"/>
<circle cx="342.6" cy="154.5" r="1.6" fill="#cc0a2f"/>
<circle cx="351.4" cy="156.5" r="1.6" fill="#cc0a2f"/>
<circle cx="342.6" cy="164.6" r="1.6" fill="#cc0a2f"/>
<circle cx="351.4" cy="166" r="1.6" fill="#cc0a2f"/>
<circle cx="346.9" cy="173.8" r="1.6" fill="#cc0a2f"/>
<path d="M341.45 146.20L341.88 147.06L342.83 147.20L342.14 147.87L342.30 148.82L341.45 148.38L340.60 148.82L340.76 147.87L340.07 147.20L341.02 147.06ZM344.95 146.20L345.38 147.06L346.33 147.20L345.64 147.87L345.80 148.82L344.95 148.38L344.10 148.82L344.26 147.87L343.57 147.20L344.52 147.06ZM348.45 146.20L348.88 147.06L349.83 147.20L349.14 147.87L349.30 148.82L348.45 148.38L347.60 148.82L347.76 147.87L347.07 147.20L348.02 147.06ZM351.95 146.20L352.38 147.06L353.33 147.20L352.64 147.87L352.80 148.82L351.95 148.38L351.10 148.82L351.26 147.87L350.57 147.20L351.52 147.06Z" fill="#111" stroke="#111" stroke-width="0.4"/>
<text transform="translate(300.9 179.2) rotate(-90) scale(0.759 1)" font-size="9" text-anchor="middle" stroke="#1a1a1a" stroke-width="0.35">MPV [fL]</text>
<line x1="393.4" y1="142.6" x2="393.4" y2="211.45" stroke="#1a1a1a" stroke-width="1.3"/>
<line x1="390.6" y1="210.5" x2="393.4" y2="210.5" stroke="#222" stroke-width="1"/>
<text x="388" y="213.5" font-size="7.5" text-anchor="end" stroke="#1a1a1a" stroke-width="0.2">0</text>
<line x1="390.6" y1="197.5" x2="393.4" y2="197.5" stroke="#222" stroke-width="1"/>
<text x="388" y="200.66" font-size="7.5" text-anchor="end" stroke="#1a1a1a" stroke-width="0.2">2</text>
<line x1="390.6" y1="185.5" x2="393.4" y2="185.5" stroke="#222" stroke-width="1"/>
<text x="388" y="187.82" font-size="7.5" text-anchor="end" stroke="#1a1a1a" stroke-width="0.2">4</text>
<line x1="390.6" y1="172.5" x2="393.4" y2="172.5" stroke="#222" stroke-width="1"/>
<text x="388" y="174.98" font-size="7.5" text-anchor="end" stroke="#1a1a1a" stroke-width="0.2">6</text>
<line x1="390.6" y1="159.5" x2="393.4" y2="159.5" stroke="#222" stroke-width="1"/>
<text x="388" y="162.14" font-size="7.5" text-anchor="end" stroke="#1a1a1a" stroke-width="0.2">8</text>
<line x1="390.6" y1="146.5" x2="393.4" y2="146.5" stroke="#222" stroke-width="1"/>
<text x="388" y="149.3" font-size="7.5" text-anchor="end" stroke="#1a1a1a" stroke-width="0.2">10</text>
<rect x="399.2" y="198.28" width="12.2" height="12.52" fill="#7fa3c6"/>
<rect x="417.7" y="178.06" width="12.2" height="32.74" fill="#e07f8f"/>
<line x1="392.75" y1="210.8" x2="436.6" y2="210.8" stroke="#1a1a1a" stroke-width="1.3"/>
<line x1="405.5" y1="210.8" x2="405.5" y2="213.2" stroke="#222" stroke-width="1"/>
<text x="405.3" y="221.8" font-size="7.5" text-anchor="middle" stroke="#1a1a1a" stroke-width="0.2">0</text>
<line x1="423.5" y1="210.8" x2="423.5" y2="213.2" stroke="#222" stroke-width="1"/>
<text x="423.8" y="221.8" font-size="7.5" text-anchor="middle" stroke="#1a1a1a" stroke-width="0.2">5</text>
<line x1="405.5" y1="197.64" x2="405.5" y2="199.24" stroke="#1a1a1a" stroke-width="1"/>
<line x1="402.3" y1="197.5" x2="408.3" y2="197.5" stroke="#1a1a1a" stroke-width="1"/>
<line x1="402.3" y1="199.5" x2="408.3" y2="199.5" stroke="#1a1a1a" stroke-width="1"/>
<line x1="423.5" y1="167.47" x2="423.5" y2="188.65" stroke="#1a1a1a" stroke-width="1"/>
<line x1="420.8" y1="167.5" x2="426.8" y2="167.5" stroke="#1a1a1a" stroke-width="1"/>
<line x1="420.8" y1="188.5" x2="426.8" y2="188.5" stroke="#1a1a1a" stroke-width="1"/>
<circle cx="401" cy="195.8" r="1.6" fill="#0f4c8a"/>
<circle cx="401" cy="200" r="1.6" fill="#0f4c8a"/>
<circle cx="405.5" cy="198.3" r="1.6" fill="#0f4c8a"/>
<circle cx="409.5" cy="198.9" r="1.6" fill="#0f4c8a"/>
<circle cx="407.5" cy="198.6" r="1.6" fill="#0f4c8a"/>
<circle cx="423.8" cy="160.3" r="1.6" fill="#cc0a2f"/>
<circle cx="423.8" cy="178.3" r="1.6" fill="#cc0a2f"/>
<circle cx="419.2" cy="182.1" r="1.6" fill="#cc0a2f"/>
<circle cx="428.3" cy="182.8" r="1.6" fill="#cc0a2f"/>
<circle cx="423.8" cy="188.6" r="1.6" fill="#cc0a2f"/>
<path d="M422.05 145.70L422.48 146.56L423.43 146.70L422.74 147.37L422.90 148.32L422.05 147.88L421.20 148.32L421.36 147.37L420.67 146.70L421.62 146.56ZM425.55 145.70L425.98 146.56L426.93 146.70L426.24 147.37L426.40 148.32L425.55 147.88L424.70 148.32L424.86 147.37L424.17 146.70L425.12 146.56Z" fill="#111" stroke="#111" stroke-width="0.4"/>
<text transform="translate(376.4 178.8) rotate(-90) scale(0.704 1)" font-size="9" text-anchor="middle" stroke="#1a1a1a" stroke-width="0.35">Preplatelet %</text>
<line x1="469.5" y1="142.6" x2="469.5" y2="211.45" stroke="#1a1a1a" stroke-width="1.3"/>
<line x1="466.7" y1="210.5" x2="469.5" y2="210.5" stroke="#222" stroke-width="1"/>
<text x="464.1" y="213.5" font-size="7.5" text-anchor="end" stroke="#1a1a1a" stroke-width="0.2">0</text>
<line x1="466.7" y1="189.5" x2="469.5" y2="189.5" stroke="#222" stroke-width="1"/>
<text x="464.1" y="192.1" font-size="7.5" text-anchor="end" stroke="#1a1a1a" stroke-width="0.2">2</text>
<line x1="466.7" y1="168.5" x2="469.5" y2="168.5" stroke="#222" stroke-width="1"/>
<text x="464.1" y="170.7" font-size="7.5" text-anchor="end" stroke="#1a1a1a" stroke-width="0.2">4</text>
<line x1="466.7" y1="146.5" x2="469.5" y2="146.5" stroke="#222" stroke-width="1"/>
<text x="464.1" y="149.3" font-size="7.5" text-anchor="end" stroke="#1a1a1a" stroke-width="0.2">6</text>
<rect x="475.8" y="202.78" width="12.2" height="8.03" fill="#7fa3c6"/>
<rect x="494.5" y="169.07" width="12.2" height="41.73" fill="#e07f8f"/>
<line x1="468.85" y1="210.8" x2="512.9" y2="210.8" stroke="#1a1a1a" stroke-width="1.3"/>
<line x1="481.5" y1="210.8" x2="481.5" y2="213.2" stroke="#222" stroke-width="1"/>
<text x="481.9" y="221.8" font-size="7.5" text-anchor="middle" stroke="#1a1a1a" stroke-width="0.2">0</text>
<line x1="500.5" y1="210.8" x2="500.5" y2="213.2" stroke="#222" stroke-width="1"/>
<text x="500.6" y="221.8" font-size="7.5" text-anchor="middle" stroke="#1a1a1a" stroke-width="0.2">5</text>
<line x1="481.5" y1="198.5" x2="481.5" y2="207.06" stroke="#1a1a1a" stroke-width="1"/>
<line x1="478.9" y1="198.5" x2="484.9" y2="198.5" stroke="#1a1a1a" stroke-width="1"/>
<line x1="478.9" y1="207.5" x2="484.9" y2="207.5" stroke="#1a1a1a" stroke-width="1"/>
<line x1="500.5" y1="157.62" x2="500.5" y2="181.38" stroke="#1a1a1a" stroke-width="1"/>
<line x1="497.6" y1="157.5" x2="503.6" y2="157.5" stroke="#1a1a1a" stroke-width="1"/>
<line x1="497.6" y1="181.5" x2="503.6" y2="181.5" stroke="#1a1a1a" stroke-width="1"/>
<circle cx="481.9" cy="195.5" r="1.6" fill="#0f4c8a"/>
<circle cx="477.3" cy="203.1" r="1.6" fill="#0f4c8a"/>
<circle cx="486.6" cy="203.1" r="1.6" fill="#0f4c8a"/>
<circle cx="480.6" cy="206.8" r="1.6" fill="#0f4c8a"/>
<circle cx="483.7" cy="206.5" r="1.6" fill="#0f4c8a"/>
<circle cx="500.6" cy="151.6" r="1.6" fill="#cc0a2f"/>
<circle cx="500.6" cy="164" r="1.6" fill="#cc0a2f"/>
<circle cx="495.6" cy="175.2" r="1.6" fill="#cc0a2f"/>
<circle cx="505" cy="176.9" r="1.6" fill="#cc0a2f"/>
<circle cx="495.6" cy="180" r="1.6" fill="#cc0a2f"/>
<path d="M497.10 145.60L497.53 146.46L498.48 146.60L497.79 147.27L497.95 148.22L497.10 147.78L496.25 148.22L496.41 147.27L495.72 146.60L496.67 146.46ZM500.60 145.60L501.03 146.46L501.98 146.60L501.29 147.27L501.45 148.22L500.60 147.78L499.75 148.22L499.91 147.27L499.22 146.60L500.17 146.46ZM504.10 145.60L504.53 146.46L505.48 146.60L504.79 147.27L504.95 148.22L504.10 147.78L503.25 148.22L503.41 147.27L502.72 146.60L503.67 146.46Z" fill="#111" stroke="#111" stroke-width="0.4"/>
<text transform="translate(454.4 178.8) rotate(-90) scale(0.698 1)" font-size="9" text-anchor="middle" stroke="#1a1a1a" stroke-width="0.35">Barbell %</text>
<text x="6.8" y="251" font-size="11" fill="#000" font-weight="bold" stroke="#000" stroke-width="0.35">D</text>
<line x1="41.2" y1="259.2" x2="41.2" y2="316.15" stroke="#1a1a1a" stroke-width="1.3"/>
<line x1="38.4" y1="315.5" x2="41.2" y2="315.5" stroke="#222" stroke-width="1"/>
<text x="35.8" y="318.2" font-size="7.5" text-anchor="end" stroke="#1a1a1a" stroke-width="0.2">0</text>
<line x1="38.4" y1="302.5" x2="41.2" y2="302.5" stroke="#222" stroke-width="1"/>
<text x="35.8" y="305.07" font-size="7.5" text-anchor="end" stroke="#1a1a1a" stroke-width="0.2">20</text>
<line x1="38.4" y1="289.5" x2="41.2" y2="289.5" stroke="#222" stroke-width="1"/>
<text x="35.8" y="291.95" font-size="7.5" text-anchor="end" stroke="#1a1a1a" stroke-width="0.2">40</text>
<line x1="38.4" y1="276.5" x2="41.2" y2="276.5" stroke="#222" stroke-width="1"/>
<text x="35.8" y="278.82" font-size="7.5" text-anchor="end" stroke="#1a1a1a" stroke-width="0.2">60</text>
<line x1="38.4" y1="263.5" x2="41.2" y2="263.5" stroke="#222" stroke-width="1"/>
<text x="35.8" y="265.7" font-size="7.5" text-anchor="end" stroke="#1a1a1a" stroke-width="0.2">80</text>
<line x1="40.55" y1="315.5" x2="96.6" y2="315.5" stroke="#1a1a1a" stroke-width="1.3"/>
<line x1="41.5" y1="315.5" x2="41.5" y2="317.9" stroke="#222" stroke-width="1"/>
<text x="41.2" y="326.5" font-size="7.5" text-anchor="middle" stroke="#1a1a1a" stroke-width="0.2">0</text>
<line x1="51.5" y1="315.5" x2="51.5" y2="317.9" stroke="#222" stroke-width="1"/>
<text x="51.5" y="326.5" font-size="7.5" text-anchor="middle" stroke="#1a1a1a" stroke-width="0.2">2</text>
<line x1="61.5" y1="315.5" x2="61.5" y2="317.9" stroke="#222" stroke-width="1"/>
<text x="61.8" y="326.5" font-size="7.5" text-anchor="middle" stroke="#1a1a1a" stroke-width="0.2">4</text>
<line x1="72.5" y1="315.5" x2="72.5" y2="317.9" stroke="#222" stroke-width="1"/>
<text x="72.1" y="326.5" font-size="7.5" text-anchor="middle" stroke="#1a1a1a" stroke-width="0.2">6</text>
<line x1="82.5" y1="315.5" x2="82.5" y2="317.9" stroke="#222" stroke-width="1"/>
<text x="82.4" y="326.5" font-size="7.5" text-anchor="middle" stroke="#1a1a1a" stroke-width="0.2">8</text>
<line x1="92.5" y1="315.5" x2="92.5" y2="317.9" stroke="#222" stroke-width="1"/>
<text x="92.7" y="326.5" font-size="7.5" text-anchor="middle" stroke="#1a1a1a" stroke-width="0.2">10</text>
<text transform="translate(67.9 338) scale(0.693 1)" font-size="9" text-anchor="middle" stroke="#1a1a1a" stroke-width="0.35">Preplatelet %</text>
<text transform="translate(20.6 289.6) rotate(-90) scale(0.640 1)" font-size="9.6" text-anchor="middle" stroke="#1a1a1a" stroke-width="0.35">RP %</text>
<line x1="47.4" y1="312.5" x2="81.8" y2="277.8" stroke="#000" stroke-width="1.5"/>
<circle cx="47.2" cy="310.5" r="1.6" fill="#0f4c8a"/>
<circle cx="48.1" cy="311.2" r="1.6" fill="#0f4c8a"/>
<circle cx="49.8" cy="310.6" r="1.6" fill="#0f4c8a"/>
<circle cx="51.3" cy="309.4" r="1.6" fill="#0f4c8a"/>
<circle cx="53.3" cy="309.7" r="1.6" fill="#0f4c8a"/>
<circle cx="47.5" cy="311.8" r="1.6" fill="#0f4c8a"/>
<circle cx="66.9" cy="283" r="1.6" fill="#cc0a2f"/>
<circle cx="82.1" cy="281.7" r="1.6" fill="#cc0a2f"/>
<circle cx="59.2" cy="298.4" r="1.6" fill="#cc0a2f"/>
<circle cx="63.5" cy="295.8" r="1.6" fill="#cc0a2f"/>
<circle cx="64.3" cy="299" r="1.6" fill="#cc0a2f"/>
<text x="63.7" y="305.6" font-size="7.5" stroke="#1a1a1a" stroke-width="0.2">r = 0.9420</text>
<text x="63.7" y="312.8" font-size="7.5" stroke="#1a1a1a" stroke-width="0.2">p = &lt;.0001</text>
<line x1="41.2" y1="350.7" x2="41.2" y2="407.25" stroke="#1a1a1a" stroke-width="1.3"/>
<line x1="38.4" y1="406.5" x2="41.2" y2="406.5" stroke="#222" stroke-width="1"/>
<text x="35.8" y="409.3" font-size="7.5" text-anchor="end" stroke="#1a1a1a" stroke-width="0.2">0</text>
<line x1="38.4" y1="389.5" x2="41.2" y2="389.5" stroke="#222" stroke-width="1"/>
<text x="35.8" y="391.83" font-size="7.5" text-anchor="end" stroke="#1a1a1a" stroke-width="0.2">20</text>
<line x1="38.4" y1="371.5" x2="41.2" y2="371.5" stroke="#222" stroke-width="1"/>
<text x="35.8" y="374.37" font-size="7.5" text-anchor="end" stroke="#1a1a1a" stroke-width="0.2">40</text>
<line x1="38.4" y1="354.5" x2="41.2" y2="354.5" stroke="#222" stroke-width="1"/>
<text x="35.8" y="356.9" font-size="7.5" text-anchor="end" stroke="#1a1a1a" stroke-width="0.2">60</text>
<line x1="40.55" y1="406.6" x2="95.7" y2="406.6" stroke="#1a1a1a" stroke-width="1.3"/>
<line x1="41.5" y1="406.6" x2="41.5" y2="409" stroke="#222" stroke-width="1"/>
<text x="41.2" y="417.9" font-size="7.5" text-anchor="middle" stroke="#1a1a1a" stroke-width="0.2">0</text>
<line x1="58.5" y1="406.6" x2="58.5" y2="409" stroke="#222" stroke-width="1"/>
<text x="58.55" y="417.9" font-size="7.5" text-anchor="middle" stroke="#1a1a1a" stroke-width="0.2">2</text>
<line x1="75.5" y1="406.6" x2="75.5" y2="409" stroke="#222" stroke-width="1"/>
<text x="75.9" y="417.9" font-size="7.5" text-anchor="middle" stroke="#1a1a1a" stroke-width="0.2">4</text>
<line x1="93.5" y1="406.6" x2="93.5" y2="409" stroke="#222" stroke-width="1"/>
<text x="93.25" y="417.9" font-size="7.5" text-anchor="middle" stroke="#1a1a1a" stroke-width="0.2">6</text>
<text transform="translate(67.45 426.5) scale(0.706 1)" font-size="9" text-anchor="middle" stroke="#1a1a1a" stroke-width="0.35">Barbell %</text>
<text transform="translate(21.6 381.2) rotate(-90) scale(0.640 1)" font-size="9.6" text-anchor="middle" stroke="#1a1a1a" stroke-width="0.35">RP %</text>
<line x1="44.6" y1="403.2" x2="90.5" y2="361.6" stroke="#000" stroke-width="1.5"/>
<circle cx="44.6" cy="398.8" r="1.6" fill="#0f4c8a"/>
<circle cx="46.3" cy="399.7" r="1.6" fill="#0f4c8a"/>
<circle cx="48" cy="399" r="1.6" fill="#0f4c8a"/>
<circle cx="51.9" cy="399.7" r="1.6" fill="#0f4c8a"/>
<circle cx="53.6" cy="398.5" r="1.6" fill="#0f4c8a"/>
<circle cx="45.5" cy="400.5" r="1.6" fill="#0f4c8a"/>
<circle cx="79.2" cy="363" r="1.6" fill="#cc0a2f"/>
<circle cx="89.3" cy="361.3" r="1.6" fill="#cc0a2f"/>
<circle cx="66.2" cy="384.1" r="1.6" fill="#cc0a2f"/>
<circle cx="68.8" cy="384.1" r="1.6" fill="#cc0a2f"/>
<circle cx="69.7" cy="380.3" r="1.6" fill="#cc0a2f"/>
<text x="44.3" y="352.3" font-size="7.5" stroke="#1a1a1a" stroke-width="0.2">r = 0.9724</text>
<text x="44.3" y="359.5" font-size="7.5" stroke="#1a1a1a" stroke-width="0.2">p = &lt;.0001</text>
<line x1="41.2" y1="436.2" x2="41.2" y2="492.55" stroke="#1a1a1a" stroke-width="1.3"/>
<line x1="38.4" y1="491.5" x2="41.2" y2="491.5" stroke="#222" stroke-width="1"/>
<text x="35.8" y="494.6" font-size="7.5" text-anchor="end" stroke="#1a1a1a" stroke-width="0.2">0</text>
<line x1="38.4" y1="474.5" x2="41.2" y2="474.5" stroke="#222" stroke-width="1"/>
<text x="35.8" y="477.17" font-size="7.5" text-anchor="end" stroke="#1a1a1a" stroke-width="0.2">20</text>
<line x1="38.4" y1="457.5" x2="41.2" y2="457.5" stroke="#222" stroke-width="1"/>
<text x="35.8" y="459.73" font-size="7.5" text-anchor="end" stroke="#1a1a1a" stroke-width="0.2">40</text>
<line x1="38.4" y1="439.5" x2="41.2" y2="439.5" stroke="#222" stroke-width="1"/>
<text x="35.8" y="442.3" font-size="7.5" text-anchor="end" stroke="#1a1a1a" stroke-width="0.2">60</text>
<line x1="40.55" y1="491.9" x2="97.5" y2="491.9" stroke="#1a1a1a" stroke-width="1.3"/>
<line x1="41.5" y1="491.9" x2="41.5" y2="494.3" stroke="#222" stroke-width="1"/>
<text x="41.2" y="502.1" font-size="7.5" text-anchor="middle" stroke="#1a1a1a" stroke-width="0.2">0</text>
<line x1="59.5" y1="491.9" x2="59.5" y2="494.3" stroke="#222" stroke-width="1"/>
<text x="59" y="502.1" font-size="7.5" text-anchor="middle" stroke="#1a1a1a" stroke-width="0.2">5</text>
<line x1="76.5" y1="491.9" x2="76.5" y2="494.3" stroke="#222" stroke-width="1"/>
<text x="76.8" y="502.1" font-size="7.5" text-anchor="middle" stroke="#1a1a1a" stroke-width="0.2">10</text>
<line x1="94.5" y1="491.9" x2="94.5" y2="494.3" stroke="#222" stroke-width="1"/>
<text x="94.6" y="502.1" font-size="7.5" text-anchor="middle" stroke="#1a1a1a" stroke-width="0.2">15</text>
<text transform="translate(68.35 513.1) scale(0.700 1)" font-size="9" text-anchor="middle" stroke="#1a1a1a" stroke-width="0.35">Preplatelet/ Barbell %</text>
<text transform="translate(21.6 466.2) rotate(-90) scale(0.640 1)" font-size="9.6" text-anchor="middle" stroke="#1a1a1a" stroke-width="0.35">RP %</text>
<line x1="43.7" y1="487.3" x2="87.9" y2="444.4" stroke="#000" stroke-width="1.5"/>
<circle cx="44.2" cy="484.8" r="1.6" fill="#0f4c8a"/>
<circle cx="45.5" cy="485.5" r="1.6" fill="#0f4c8a"/>
<circle cx="47" cy="484.9" r="1.6" fill="#0f4c8a"/>
<circle cx="49.5" cy="484.6" r="1.6" fill="#0f4c8a"/>
<circle cx="51.3" cy="484.2" r="1.6" fill="#0f4c8a"/>
<circle cx="44.8" cy="486.3" r="1.6" fill="#0f4c8a"/>
<circle cx="73.8" cy="448.3" r="1.6" fill="#cc0a2f"/>
<circle cx="87.9" cy="446.3" r="1.6" fill="#cc0a2f"/>
<circle cx="64.8" cy="468.8" r="1.6" fill="#cc0a2f"/>
<circle cx="67.7" cy="465.6" r="1.6" fill="#cc0a2f"/>
<circle cx="66.7" cy="470" r="1.6" fill="#cc0a2f"/>
<text x="63.5" y="480" font-size="7.5" stroke="#1a1a1a" stroke-width="0.2">r = 0.9629</text>
<text x="63.5" y="487.2" font-size="7.5" stroke="#1a1a1a" stroke-width="0.2">p = &lt;.0001</text>
<text x="163.4" y="250.7" font-size="11" fill="#000" font-weight="bold" stroke="#000" stroke-width="0.35">E</text>
<path d="M209.0 300.8 L215.0 297.8 L222.0 294.4 L228.0 291.6 L234.0 288.6 L239.0 286.6 L242.3 285.9 L243.0 287.5 L241.4 291.0 L238.4 295.3 L234.8 299.6 L230.8 303.4 L226.0 306.6 L220.0 309.4 L215.0 311.2 L211.0 311.8 L209.0 311.0Z" fill="#ff9500"/>
<path d="M212.9 299.3h0.8M214.3 296.9h0.8M209.5 300.4h0.8M214.3 299.8h0.8M212.3 296.1h0.8M213.4 298.6h0.8M211.8 302.5h0.8M210.7 298.6h0.8M212.0 301.6h0.8M214.4 297.8h0.8M209.9 299.4h0.8M211.1 298.1h0.8M212.8 298.3h0.8M209.5 299.8h0.8M217.0 296.3h0.8M219.6 295.6h0.8M217.1 295.0h0.8M221.1 296.7h0.8M219.4 294.3h0.8M221.6 295.5h0.8M217.6 296.7h0.8M218.5 294.9h0.8M215.7 298.2h0.8M215.8 295.2h0.8M219.3 296.1h0.8M222.0 294.0h0.8M221.1 295.4h0.8M219.0 297.4h0.8M217.3 296.7h0.8M214.7 299.3h0.8M216.4 295.4h0.8M220.1 293.4h0.8M226.0 292.6h0.8M223.6 293.8h0.8M225.8 292.9h0.8M227.9 290.5h0.8M223.4 293.0h0.8M227.6 292.0h0.8M223.5 293.7h0.8M222.0 293.1h0.8M227.5 292.4h0.8M222.9 294.1h0.8M223.3 292.5h0.8M222.0 292.9h0.8M223.6 292.1h0.8M225.0 294.3h0.8M226.1 292.4h0.8M232.9 286.3h0.8M229.8 292.0h0.8M232.3 288.4h0.8M231.5 291.0h0.8M229.8 293.9h0.8M234.1 287.9h0.8M230.2 290.3h0.8M229.9 290.7h0.8M233.3 286.7h0.8M229.9 290.4h0.8M230.8 290.3h0.8M231.0 291.7h0.8M230.6 289.1h0.8M233.4 292.1h0.8M231.5 288.0h0.8M235.7 289.9h0.8M238.6 286.4h0.8M238.3 286.1h0.8M234.1 286.8h0.8M238.8 286.3h0.8M235.4 288.6h0.8M235.5 287.3h0.8M233.8 288.2h0.8M233.5 287.5h0.8M236.5 287.0h0.8M236.0 287.4h0.8M239.0 286.6h0.8M240.0 285.9h0.8M236.3 287.2h0.8M239.9 284.5h0.8M240.7 285.5h0.8M239.2 286.4h0.8M240.2 286.6h0.8M239.9 288.5h0.8M241.3 283.8h0.8M242.2 286.3h0.8M241.6 287.5h0.8M242.1 285.8h0.8M242.5 286.8h0.8M244.2 286.3h0.8M240.8 290.9h0.8M239.5 292.1h0.8M241.9 286.8h0.8M242.7 290.8h0.8M239.3 291.0h0.8M243.7 288.1h0.8M242.4 288.6h0.8M241.1 289.5h0.8M243.8 290.7h0.8M240.4 291.1h0.8M237.8 294.2h0.8M239.7 293.4h0.8M240.6 295.1h0.8M240.8 293.8h0.8M238.7 296.3h0.8M240.3 290.1h0.8M240.4 291.6h0.8M238.6 292.1h0.8M237.4 295.3h0.8M239.6 292.5h0.8M238.1 296.3h0.8M240.4 292.5h0.8M237.8 294.9h0.8M237.2 295.9h0.8M234.8 299.0h0.8M238.3 296.6h0.8M236.3 295.7h0.8M236.7 298.8h0.8M233.4 299.7h0.8M238.5 297.1h0.8M235.0 299.9h0.8M233.9 299.7h0.8M237.1 297.0h0.8M231.1 299.6h0.8M233.8 302.7h0.8M231.3 302.8h0.8M233.4 303.2h0.8M232.1 303.6h0.8M232.7 300.1h0.8M233.3 302.5h0.8M233.4 300.6h0.8M234.0 302.3h0.8M234.2 299.7h0.8M230.7 300.9h0.8M232.3 302.6h0.8M230.3 303.8h0.8M228.8 302.8h0.8M229.7 306.3h0.8M227.9 305.9h0.8M229.3 304.3h0.8M226.2 306.2h0.8M230.8 304.4h0.8M227.4 306.8h0.8M229.8 303.9h0.8M231.0 305.8h0.8M229.1 306.5h0.8M226.3 306.3h0.8M226.4 306.5h0.8M226.7 304.6h0.8M221.6 307.9h0.8M223.7 310.4h0.8M220.6 311.1h0.8M223.3 309.1h0.8M226.9 308.2h0.8M224.4 307.4h0.8M220.5 308.8h0.8M224.8 307.2h0.8M222.1 307.5h0.8M224.1 305.3h0.8M224.2 308.5h0.8M222.9 308.6h0.8M221.3 308.3h0.8M225.7 307.3h0.8M226.4 307.6h0.8M219.0 307.1h0.8M215.9 311.0h0.8M217.0 312.8h0.8M215.2 308.9h0.8M214.4 312.4h0.8M214.1 312.0h0.8M216.5 311.3h0.8M217.5 308.8h0.8M218.4 309.0h0.8M215.5 310.4h0.8M219.0 310.5h0.8M220.9 308.0h0.8M210.2 309.7h0.8M212.6 310.6h0.8M213.1 312.0h0.8M211.9 312.2h0.8M215.2 313.2h0.8M213.5 311.7h0.8M215.9 309.9h0.8M214.7 311.3h0.8M212.8 312.4h0.8M209.3 309.5h0.8M211.1 313.1h0.8M211.4 311.9h0.8M210.5 312.0h0.8M209.6 312.9h0.8M210.3 308.5h0.8M209.5 303.9h0.8M211.7 307.9h0.8M209.4 308.1h0.8M212.1 299.7h0.8M209.0 302.6h0.8M209.2 302.2h0.8M210.0 303.2h0.8M211.4 303.0h0.8M246.4 288.0h0.8M225.9 295.4h0.8M224.7 295.4h0.8M244.9 294.9h0.8M223.5 286.0h0.8M237.5 295.5h0.8M218.9 300.9h0.8M223.2 295.2h0.8M224.5 293.3h0.8M234.6 284.0h0.8M229.4 312.1h0.8M232.0 291.8h0.8M234.0 309.9h0.8M228.3 309.1h0.8M239.1 300.8h0.8M220.7 295.3h0.8M213.6 299.9h0.8M210.2 291.5h0.8M211.8 300.7h0.8M222.5 299.0h0.8M238.3 302.5h0.8M229.7 305.2h0.8M222.0 310.3h0.8M217.3 296.5h0.8M222.7 305.8h0.8M224.0 293.9h0.8M222.3 293.2h0.8M213.7 295.0h0.8M223.2 292.6h0.8M238.2 305.4h0.8M225.6 307.3h0.8M229.8 300.8h0.8M220.5 295.2h0.8M229.0 301.9h0.8M246.2 300.7h0.8M229.1 291.8h0.8M239.6 302.8h0.8M227.3 287.7h0.8M232.9 294.9h0.8M223.8 295.6h0.8M213.4 292.0h0.8M235.8 305.2h0.8M230.9 302.7h0.8M222.7 306.7h0.8M236.7 299.8h0.8M219.3 290.6h0.8M234.4 296.5h0.8M218.6 291.3h0.8M233.3 301.9h0.8M217.0 306.8h0.8M242.9 301.1h0.8M230.5 295.0h0.8M242.3 296.5h0.8M219.8 300.2h0.8M223.2 289.5h0.8M236.4 299.9h0.8M217.3 295.4h0.8M238.3 296.2h0.8M232.7 300.0h0.8M237.8 293.6h0.8M224.9 293.5h0.8M233.6 303.9h0.8M220.7 300.3h0.8M214.3 309.8h0.8" stroke="#ff9500" stroke-width="0.8" fill="none"/>
<path d="M203.6 315.0h0.6M200.4 303.9h0.6M203.9 301.7h0.6M203.9 299.0h0.6M204.6 312.8h0.6M201.6 306.4h0.6M207.3 303.9h0.6M200.5 306.5h0.6M206.1 295.3h0.6M198.8 299.0h0.6M206.5 311.0h0.6M199.0 308.5h0.6M206.5 307.4h0.6M201.7 302.3h0.6M206.4 309.4h0.6M204.7 314.8h0.6M204.9 301.3h0.6M203.9 306.8h0.6M201.5 304.8h0.6M203.6 308.4h0.6M207.2 306.8h0.6M201.3 306.1h0.6M202.7 302.8h0.6M206.5 306.7h0.6M207.5 304.0h0.6M202.1 306.1h0.6" stroke="#777" stroke-width="0.6" fill="none"/>
<path d="M206.6 303.5h0.8M207.2 304.4h0.8M206.3 305.0h0.8M206.9 302.8h0.8" stroke="#333" stroke-width="0.8" fill="none"/>
<line x1="208.5" y1="262.1" x2="208.5" y2="341.5" stroke="#d2455f" stroke-width="0.9"/>
<line x1="187.8" y1="318.5" x2="267.5" y2="318.5" stroke="#d2455f" stroke-width="0.9"/>
<rect x="187.8" y="262.1" width="79.7" height="79.4" fill="none" stroke="#222" stroke-width="1.1"/>
<line x1="185.6" y1="262.1" x2="267.5" y2="262.1" stroke="#222" stroke-width="1.4"/>
<line x1="187.8" y1="341.5" x2="187.8" y2="344.1" stroke="#222" stroke-width="0.75"/>
<line x1="185.2" y1="341.5" x2="187.8" y2="341.5" stroke="#222" stroke-width="0.75"/>
<line x1="191.67" y1="341.5" x2="191.67" y2="343.2" stroke="#222" stroke-width="0.75"/>
<line x1="186.1" y1="337.64" x2="187.8" y2="337.64" stroke="#222" stroke-width="0.75"/>
<line x1="193.93" y1="341.5" x2="193.93" y2="343.2" stroke="#222" stroke-width="0.75"/>
<line x1="186.1" y1="335.39" x2="187.8" y2="335.39" stroke="#222" stroke-width="0.75"/>
<line x1="195.54" y1="341.5" x2="195.54" y2="343.2" stroke="#222" stroke-width="0.75"/>
<line x1="186.1" y1="333.79" x2="187.8" y2="333.79" stroke="#222" stroke-width="0.75"/>
<line x1="196.79" y1="341.5" x2="196.79" y2="343.2" stroke="#222" stroke-width="0.75"/>
<line x1="186.1" y1="332.55" x2="187.8" y2="332.55" stroke="#222" stroke-width="0.75"/>
<line x1="197.8" y1="341.5" x2="197.8" y2="343.2" stroke="#222" stroke-width="0.75"/>
<line x1="186.1" y1="331.53" x2="187.8" y2="331.53" stroke="#222" stroke-width="0.75"/>
<line x1="198.66" y1="341.5" x2="198.66" y2="343.2" stroke="#222" stroke-width="0.75"/>
<line x1="186.1" y1="330.68" x2="187.8" y2="330.68" stroke="#222" stroke-width="0.75"/>
<line x1="199.41" y1="341.5" x2="199.41" y2="343.2" stroke="#222" stroke-width="0.75"/>
<line x1="186.1" y1="329.93" x2="187.8" y2="329.93" stroke="#222" stroke-width="0.75"/>
<line x1="200.07" y1="341.5" x2="200.07" y2="343.2" stroke="#222" stroke-width="0.75"/>
<line x1="186.1" y1="329.28" x2="187.8" y2="329.28" stroke="#222" stroke-width="0.75"/>
<line x1="200.65" y1="341.5" x2="200.65" y2="344.1" stroke="#222" stroke-width="0.75"/>
<line x1="185.2" y1="328.69" x2="187.8" y2="328.69" stroke="#222" stroke-width="0.75"/>
<line x1="204.52" y1="341.5" x2="204.52" y2="343.2" stroke="#222" stroke-width="0.75"/>
<line x1="186.1" y1="324.84" x2="187.8" y2="324.84" stroke="#222" stroke-width="0.75"/>
<line x1="206.79" y1="341.5" x2="206.79" y2="343.2" stroke="#222" stroke-width="0.75"/>
<line x1="186.1" y1="322.58" x2="187.8" y2="322.58" stroke="#222" stroke-width="0.75"/>
<line x1="208.39" y1="341.5" x2="208.39" y2="343.2" stroke="#222" stroke-width="0.75"/>
<line x1="186.1" y1="320.98" x2="187.8" y2="320.98" stroke="#222" stroke-width="0.75"/>
<line x1="209.64" y1="341.5" x2="209.64" y2="343.2" stroke="#222" stroke-width="0.75"/>
<line x1="186.1" y1="319.74" x2="187.8" y2="319.74" stroke="#222" stroke-width="0.75"/>
<line x1="210.66" y1="341.5" x2="210.66" y2="343.2" stroke="#222" stroke-width="0.75"/>
<line x1="186.1" y1="318.73" x2="187.8" y2="318.73" stroke="#222" stroke-width="0.75"/>
<line x1="211.52" y1="341.5" x2="211.52" y2="343.2" stroke="#222" stroke-width="0.75"/>
<line x1="186.1" y1="317.87" x2="187.8" y2="317.87" stroke="#222" stroke-width="0.75"/>
<line x1="212.26" y1="341.5" x2="212.26" y2="343.2" stroke="#222" stroke-width="0.75"/>
<line x1="186.1" y1="317.13" x2="187.8" y2="317.13" stroke="#222" stroke-width="0.75"/>
<line x1="212.92" y1="341.5" x2="212.92" y2="343.2" stroke="#222" stroke-width="0.75"/>
<line x1="186.1" y1="316.47" x2="187.8" y2="316.47" stroke="#222" stroke-width="0.75"/>
<line x1="213.51" y1="341.5" x2="213.51" y2="344.1" stroke="#222" stroke-width="0.75"/>
<line x1="185.2" y1="315.89" x2="187.8" y2="315.89" stroke="#222" stroke-width="0.75"/>
<line x1="217.38" y1="341.5" x2="217.38" y2="343.2" stroke="#222" stroke-width="0.75"/>
<line x1="186.1" y1="312.03" x2="187.8" y2="312.03" stroke="#222" stroke-width="0.75"/>
<line x1="219.64" y1="341.5" x2="219.64" y2="343.2" stroke="#222" stroke-width="0.75"/>
<line x1="186.1" y1="309.78" x2="187.8" y2="309.78" stroke="#222" stroke-width="0.75"/>
<line x1="221.25" y1="341.5" x2="221.25" y2="343.2" stroke="#222" stroke-width="0.75"/>
<line x1="186.1" y1="308.18" x2="187.8" y2="308.18" stroke="#222" stroke-width="0.75"/>
<line x1="222.49" y1="341.5" x2="222.49" y2="343.2" stroke="#222" stroke-width="0.75"/>
<line x1="186.1" y1="306.94" x2="187.8" y2="306.94" stroke="#222" stroke-width="0.75"/>
<line x1="223.51" y1="341.5" x2="223.51" y2="343.2" stroke="#222" stroke-width="0.75"/>
<line x1="186.1" y1="305.92" x2="187.8" y2="305.92" stroke="#222" stroke-width="0.75"/>
<line x1="224.37" y1="341.5" x2="224.37" y2="343.2" stroke="#222" stroke-width="0.75"/>
<line x1="186.1" y1="305.06" x2="187.8" y2="305.06" stroke="#222" stroke-width="0.75"/>
<line x1="225.12" y1="341.5" x2="225.12" y2="343.2" stroke="#222" stroke-width="0.75"/>
<line x1="186.1" y1="304.32" x2="187.8" y2="304.32" stroke="#222" stroke-width="0.75"/>
<line x1="225.78" y1="341.5" x2="225.78" y2="343.2" stroke="#222" stroke-width="0.75"/>
<line x1="186.1" y1="303.67" x2="187.8" y2="303.67" stroke="#222" stroke-width="0.75"/>
<line x1="226.36" y1="341.5" x2="226.36" y2="344.1" stroke="#222" stroke-width="0.75"/>
<line x1="185.2" y1="303.08" x2="187.8" y2="303.08" stroke="#222" stroke-width="0.75"/>
<line x1="230.23" y1="341.5" x2="230.23" y2="343.2" stroke="#222" stroke-width="0.75"/>
<line x1="186.1" y1="299.23" x2="187.8" y2="299.23" stroke="#222" stroke-width="0.75"/>
<line x1="232.5" y1="341.5" x2="232.5" y2="343.2" stroke="#222" stroke-width="0.75"/>
<line x1="186.1" y1="296.97" x2="187.8" y2="296.97" stroke="#222" stroke-width="0.75"/>
<line x1="234.1" y1="341.5" x2="234.1" y2="343.2" stroke="#222" stroke-width="0.75"/>
<line x1="186.1" y1="295.37" x2="187.8" y2="295.37" stroke="#222" stroke-width="0.75"/>
<line x1="235.35" y1="341.5" x2="235.35" y2="343.2" stroke="#222" stroke-width="0.75"/>
<line x1="186.1" y1="294.13" x2="187.8" y2="294.13" stroke="#222" stroke-width="0.75"/>
<line x1="236.37" y1="341.5" x2="236.37" y2="343.2" stroke="#222" stroke-width="0.75"/>
<line x1="186.1" y1="293.12" x2="187.8" y2="293.12" stroke="#222" stroke-width="0.75"/>
<line x1="237.23" y1="341.5" x2="237.23" y2="343.2" stroke="#222" stroke-width="0.75"/>
<line x1="186.1" y1="292.26" x2="187.8" y2="292.26" stroke="#222" stroke-width="0.75"/>
<line x1="237.97" y1="341.5" x2="237.97" y2="343.2" stroke="#222" stroke-width="0.75"/>
<line x1="186.1" y1="291.52" x2="187.8" y2="291.52" stroke="#222" stroke-width="0.75"/>
<line x1="238.63" y1="341.5" x2="238.63" y2="343.2" stroke="#222" stroke-width="0.75"/>
<line x1="186.1" y1="290.86" x2="187.8" y2="290.86" stroke="#222" stroke-width="0.75"/>
<line x1="239.22" y1="341.5" x2="239.22" y2="344.1" stroke="#222" stroke-width="0.75"/>
<line x1="185.2" y1="290.27" x2="187.8" y2="290.27" stroke="#222" stroke-width="0.75"/>
<line x1="243.09" y1="341.5" x2="243.09" y2="343.2" stroke="#222" stroke-width="0.75"/>
<line x1="186.1" y1="286.42" x2="187.8" y2="286.42" stroke="#222" stroke-width="0.75"/>
<line x1="245.35" y1="341.5" x2="245.35" y2="343.2" stroke="#222" stroke-width="0.75"/>
<line x1="186.1" y1="284.16" x2="187.8" y2="284.16" stroke="#222" stroke-width="0.75"/>
<line x1="246.96" y1="341.5" x2="246.96" y2="343.2" stroke="#222" stroke-width="0.75"/>
<line x1="186.1" y1="282.56" x2="187.8" y2="282.56" stroke="#222" stroke-width="0.75"/>
<line x1="248.2" y1="341.5" x2="248.2" y2="343.2" stroke="#222" stroke-width="0.75"/>
<line x1="186.1" y1="281.32" x2="187.8" y2="281.32" stroke="#222" stroke-width="0.75"/>
<line x1="249.22" y1="341.5" x2="249.22" y2="343.2" stroke="#222" stroke-width="0.75"/>
<line x1="186.1" y1="280.31" x2="187.8" y2="280.31" stroke="#222" stroke-width="0.75"/>
<line x1="250.08" y1="341.5" x2="250.08" y2="343.2" stroke="#222" stroke-width="0.75"/>
<line x1="186.1" y1="279.45" x2="187.8" y2="279.45" stroke="#222" stroke-width="0.75"/>
<line x1="250.83" y1="341.5" x2="250.83" y2="343.2" stroke="#222" stroke-width="0.75"/>
<line x1="186.1" y1="278.71" x2="187.8" y2="278.71" stroke="#222" stroke-width="0.75"/>
<line x1="251.49" y1="341.5" x2="251.49" y2="343.2" stroke="#222" stroke-width="0.75"/>
<line x1="186.1" y1="278.05" x2="187.8" y2="278.05" stroke="#222" stroke-width="0.75"/>
<line x1="252.07" y1="341.5" x2="252.07" y2="344.1" stroke="#222" stroke-width="0.75"/>
<line x1="185.2" y1="277.47" x2="187.8" y2="277.47" stroke="#222" stroke-width="0.75"/>
<line x1="255.94" y1="341.5" x2="255.94" y2="343.2" stroke="#222" stroke-width="0.75"/>
<line x1="186.1" y1="273.61" x2="187.8" y2="273.61" stroke="#222" stroke-width="0.75"/>
<line x1="258.21" y1="341.5" x2="258.21" y2="343.2" stroke="#222" stroke-width="0.75"/>
<line x1="186.1" y1="271.36" x2="187.8" y2="271.36" stroke="#222" stroke-width="0.75"/>
<line x1="259.81" y1="341.5" x2="259.81" y2="343.2" stroke="#222" stroke-width="0.75"/>
<line x1="186.1" y1="269.76" x2="187.8" y2="269.76" stroke="#222" stroke-width="0.75"/>
<line x1="261.06" y1="341.5" x2="261.06" y2="343.2" stroke="#222" stroke-width="0.75"/>
<line x1="186.1" y1="268.52" x2="187.8" y2="268.52" stroke="#222" stroke-width="0.75"/>
<line x1="262.08" y1="341.5" x2="262.08" y2="343.2" stroke="#222" stroke-width="0.75"/>
<line x1="186.1" y1="267.5" x2="187.8" y2="267.5" stroke="#222" stroke-width="0.75"/>
<line x1="262.94" y1="341.5" x2="262.94" y2="343.2" stroke="#222" stroke-width="0.75"/>
<line x1="186.1" y1="266.65" x2="187.8" y2="266.65" stroke="#222" stroke-width="0.75"/>
<line x1="263.68" y1="341.5" x2="263.68" y2="343.2" stroke="#222" stroke-width="0.75"/>
<line x1="186.1" y1="265.9" x2="187.8" y2="265.9" stroke="#222" stroke-width="0.75"/>
<line x1="264.34" y1="341.5" x2="264.34" y2="343.2" stroke="#222" stroke-width="0.75"/>
<line x1="186.1" y1="265.25" x2="187.8" y2="265.25" stroke="#222" stroke-width="0.75"/>
<line x1="264.93" y1="341.5" x2="264.93" y2="344.1" stroke="#222" stroke-width="0.75"/>
<line x1="185.2" y1="264.66" x2="187.8" y2="264.66" stroke="#222" stroke-width="0.75"/>
<text x="186.6" y="352.4" font-size="6.6" text-anchor="middle" stroke="#1a1a1a" stroke-width="0.2">10<tspan font-size="4.2" dy="-2.6">1</tspan></text>
<text transform="translate(182.8 339.9) rotate(-90)" font-size="6.6" text-anchor="middle" stroke="#1a1a1a" stroke-width="0.2">10<tspan font-size="4.2" dy="-2.6">1</tspan></text>
<text x="199.45" y="352.4" font-size="6.6" text-anchor="middle" stroke="#1a1a1a" stroke-width="0.2">10<tspan font-size="4.2" dy="-2.6">2</tspan></text>
<text transform="translate(182.8 327.09) rotate(-90)" font-size="6.6" text-anchor="middle" stroke="#1a1a1a" stroke-width="0.2">10<tspan font-size="4.2" dy="-2.6">2</tspan></text>
<text x="212.31" y="352.4" font-size="6.6" text-anchor="middle" stroke="#1a1a1a" stroke-width="0.2">10<tspan font-size="4.2" dy="-2.6">3</tspan></text>
<text transform="translate(182.8 314.29) rotate(-90)" font-size="6.6" text-anchor="middle" stroke="#1a1a1a" stroke-width="0.2">10<tspan font-size="4.2" dy="-2.6">3</tspan></text>
<text x="225.16" y="352.4" font-size="6.6" text-anchor="middle" stroke="#1a1a1a" stroke-width="0.2">10<tspan font-size="4.2" dy="-2.6">4</tspan></text>
<text transform="translate(182.8 301.48) rotate(-90)" font-size="6.6" text-anchor="middle" stroke="#1a1a1a" stroke-width="0.2">10<tspan font-size="4.2" dy="-2.6">4</tspan></text>
<text x="238.02" y="352.4" font-size="6.6" text-anchor="middle" stroke="#1a1a1a" stroke-width="0.2">10<tspan font-size="4.2" dy="-2.6">5</tspan></text>
<text transform="translate(182.8 288.67) rotate(-90)" font-size="6.6" text-anchor="middle" stroke="#1a1a1a" stroke-width="0.2">10<tspan font-size="4.2" dy="-2.6">5</tspan></text>
<text x="250.87" y="352.4" font-size="6.6" text-anchor="middle" stroke="#1a1a1a" stroke-width="0.2">10<tspan font-size="4.2" dy="-2.6">6</tspan></text>
<text transform="translate(182.8 275.87) rotate(-90)" font-size="6.6" text-anchor="middle" stroke="#1a1a1a" stroke-width="0.2">10<tspan font-size="4.2" dy="-2.6">6</tspan></text>
<text x="266.3" y="352.4" font-size="6.6" text-anchor="middle" stroke="#1a1a1a" stroke-width="0.2">10<tspan font-size="4.2" dy="-2.6">7.2</tspan></text>
<text transform="translate(182.8 260.5) rotate(-90)" font-size="6.6" text-anchor="middle" stroke="#1a1a1a" stroke-width="0.2">10<tspan font-size="4.2" dy="-2.6">7.2</tspan></text>
<text x="187.2" y="259.5" font-size="7.6" stroke="#1a1a1a" stroke-width="0.2">0h</text>
<text x="190.2" y="269.7" font-size="7" fill="#c9173f" stroke="#c9173f" stroke-width="0.2">New</text>
<text x="190.2" y="278.3" font-size="7" fill="#c9173f" stroke="#c9173f" stroke-width="0.2">0.4%</text>
<text x="243.5" y="269.7" font-size="7" fill="#f7a81e" stroke="#f7a81e" stroke-width="0.2">Old</text>
<text x="243.5" y="278.3" font-size="7.2" fill="#f7a81e" stroke="#f7a81e" stroke-width="0.2">99.6%</text>
<text x="190.4" y="328.4" font-size="7.4" fill="#c9173f" stroke="#c9173f" stroke-width="0.2" letter-spacing="0.5">-/-</text>
<text x="190.4" y="338.2" font-size="7" fill="#c9173f" stroke="#c9173f" stroke-width="0.2">0.0%</text>
<text x="263" y="338.2" font-size="7" text-anchor="end" fill="#c9173f" stroke="#c9173f" stroke-width="0.2">0.0%</text>
<text transform="translate(168.8 301.7) rotate(-90) scale(0.756 1)" font-size="8" text-anchor="middle" font-weight="bold">APC &#8211; CD41a</text>
<path d="M316.1 299.6h0.6M314.1 296.8h0.6M314.7 303.0h0.6M302.6 303.0h0.6M306.4 297.2h0.6M310.3 305.9h0.6M315.2 304.6h0.6M312.6 298.7h0.6M315.5 300.1h0.6M313.9 300.5h0.6M311.3 302.5h0.6M315.3 301.5h0.6M315.2 296.4h0.6M312.4 307.0h0.6M314.5 303.1h0.6M316.6 306.3h0.6M313.9 306.3h0.6M313.6 301.3h0.6M316.4 303.2h0.6M311.8 304.5h0.6M312.2 304.6h0.6M316.1 301.4h0.6M315.2 299.9h0.6M314.7 302.1h0.6M311.1 299.3h0.6M312.5 300.1h0.6M304.9 295.1h0.6M307.4 302.3h0.6M306.8 298.5h0.6M308.2 300.1h0.6M312.2 301.8h0.6M316.4 303.1h0.6M310.7 308.4h0.6M312.9 302.7h0.6M315.9 297.2h0.6M315.5 302.4h0.6M316.2 300.0h0.6M312.0 303.4h0.6M310.4 299.7h0.6M314.7 299.6h0.6M315.7 300.3h0.6M306.4 299.9h0.6M312.6 295.8h0.6M310.7 299.7h0.6M313.8 302.0h0.6M311.4 306.1h0.6M315.8 301.0h0.6M309.3 300.7h0.6M306.0 304.0h0.6M310.4 303.8h0.6M311.0 307.4h0.6M308.7 304.0h0.6M316.3 301.9h0.6M309.9 306.6h0.6M316.7 307.2h0.6M311.2 300.4h0.6M303.0 302.5h0.6M315.6 296.3h0.6M315.5 300.8h0.6M312.6 299.0h0.6M313.3 301.3h0.6M316.0 300.4h0.6M316.1 301.4h0.6M316.6 301.6h0.6M313.3 303.7h0.6M310.8 302.8h0.6M308.0 300.1h0.6M302.6 297.6h0.6M310.0 306.2h0.6M316.8 306.8h0.6M308.1 300.5h0.6M312.7 296.8h0.6M314.3 296.7h0.6M316.7 301.1h0.6M309.7 307.0h0.6M311.9 298.4h0.6M306.6 299.2h0.6M315.1 307.5h0.6M314.7 295.6h0.6M315.5 304.2h0.6M313.1 303.7h0.6M311.9 301.3h0.6M316.6 302.6h0.6M312.6 310.9h0.6M316.4 298.2h0.6M311.8 300.9h0.6M316.1 301.2h0.6M310.4 299.7h0.6M312.2 297.4h0.6M308.6 307.4h0.6M313.2 302.7h0.6M316.3 296.0h0.6M312.2 299.6h0.6M315.9 303.4h0.6M314.6 297.1h0.6M313.0 301.7h0.6M313.1 302.9h0.6M312.3 303.3h0.6M307.8 303.3h0.6M315.6 295.8h0.6M314.8 308.3h0.6M311.7 302.7h0.6M313.3 308.1h0.6M302.5 311.7h0.6M315.3 301.5h0.6M314.5 297.8h0.6M306.0 304.9h0.6M310.9 301.4h0.6M311.4 300.5h0.6M311.5 298.5h0.6M315.1 307.7h0.6M305.4 300.5h0.6M311.8 297.2h0.6M316.3 300.5h0.6M311.4 298.1h0.6M307.1 302.5h0.6M312.6 300.6h0.6M312.7 304.0h0.6M316.2 304.5h0.6M312.9 306.3h0.6M312.4 300.8h0.6M313.2 299.8h0.6M313.9 302.7h0.6M314.0 305.0h0.6M309.1 302.0h0.6M313.7 302.5h0.6M316.6 301.9h0.6M313.1 303.1h0.6M309.3 304.1h0.6M312.3 299.6h0.6M313.9 300.4h0.6M314.5 302.1h0.6M304.7 299.7h0.6M314.2 303.8h0.6M311.6 301.9h0.6M312.3 299.9h0.6M316.0 299.4h0.6M314.9 308.0h0.6M315.1 305.0h0.6M307.8 298.2h0.6M313.2 299.1h0.6M311.8 308.4h0.6M306.9 307.1h0.6M315.5 302.4h0.6M310.6 305.9h0.6M308.8 296.9h0.6M314.6 302.0h0.6M311.9 304.5h0.6M314.3 295.7h0.6M315.3 304.7h0.6M315.6 305.8h0.6M312.7 300.0h0.6M313.3 303.0h0.6M316.7 307.4h0.6M309.0 300.7h0.6M312.4 297.5h0.6M316.0 301.8h0.6M304.5 300.7h0.6M312.7 306.4h0.6M315.8 302.5h0.6M315.7 299.3h0.6M311.5 310.2h0.6M313.2 300.3h0.6M315.9 303.6h0.6M311.2 304.3h0.6M315.3 304.7h0.6M315.1 302.6h0.6M311.9 304.0h0.6M310.9 301.8h0.6M314.2 297.2h0.6M305.4 301.3h0.6M316.5 301.3h0.6M309.6 301.4h0.6M310.4 302.5h0.6M312.4 299.9h0.6M310.6 306.5h0.6M311.9 307.3h0.6M316.6 294.5h0.6M315.8 302.0h0.6M308.0 299.6h0.6M312.8 293.1h0.6M315.5 303.4h0.6M313.7 299.9h0.6M305.0 300.7h0.6M315.3 299.8h0.6M312.0 305.7h0.6M316.1 306.2h0.6M312.9 302.9h0.6M313.8 304.4h0.6M305.4 301.6h0.6M316.0 302.5h0.6M310.5 299.5h0.6M308.5 302.1h0.6M305.9 299.6h0.6M314.2 303.3h0.6M313.7 304.8h0.6M311.6 303.1h0.6M312.1 306.0h0.6M309.3 311.1h0.6M315.4 294.8h0.6M306.8 302.0h0.6M305.4 300.1h0.6M315.3 300.4h0.6M309.4 297.4h0.6M316.4 302.2h0.6M316.8 301.1h0.6M315.8 299.8h0.6M312.8 301.1h0.6M314.9 300.0h0.6M315.5 294.0h0.6M311.3 305.7h0.6M310.1 301.0h0.6M309.0 298.8h0.6M309.4 303.0h0.6M303.4 299.7h0.6M312.9 294.6h0.6M314.3 305.0h0.6M305.8 296.3h0.6M313.3 301.3h0.6M313.9 302.4h0.6M313.6 306.6h0.6M306.5 306.0h0.6M310.5 302.6h0.6M313.7 299.4h0.6M314.4 300.6h0.6M300.1 305.7h0.6M304.4 308.1h0.6M311.5 303.8h0.6M314.5 299.8h0.6M313.3 305.5h0.6M303.5 300.7h0.6M316.6 300.6h0.6M312.6 301.1h0.6M309.5 304.0h0.6M307.7 302.9h0.6M314.0 305.4h0.6M316.7 306.4h0.6M316.2 303.7h0.6M312.1 294.1h0.6M312.1 296.2h0.6M309.8 302.5h0.6M306.5 301.8h0.6M315.2 309.3h0.6M312.6 301.9h0.6M316.3 301.5h0.6M313.4 305.2h0.6M310.1 305.6h0.6M314.4 301.2h0.6M312.6 303.6h0.6M309.7 298.1h0.6M306.0 298.8h0.6M312.1 306.2h0.6M312.6 297.2h0.6M312.6 305.1h0.6M316.9 304.3h0.6M308.5 304.6h0.6M314.6 305.1h0.6M309.4 303.9h0.6M315.0 294.7h0.6M311.1 298.6h0.6M314.3 300.0h0.6M309.2 305.1h0.6M307.8 298.2h0.6M311.4 299.6h0.6M313.1 300.8h0.6M315.4 306.5h0.6M316.8 297.1h0.6M308.0 297.4h0.6M312.3 304.1h0.6M315.7 294.8h0.6M312.8 303.1h0.6M313.1 300.5h0.6M308.5 296.6h0.6M313.9 300.6h0.6M309.1 298.6h0.6M312.7 302.6h0.6M312.3 303.2h0.6M301.1 307.1h0.6M312.7 302.0h0.6M314.4 302.3h0.6M305.6 300.0h0.6M310.8 301.9h0.6M311.5 305.6h0.6M314.2 295.5h0.6M315.4 304.2h0.6M301.4 300.2h0.6M314.8 302.3h0.6M310.3 303.1h0.6M316.7 304.9h0.6M315.6 302.8h0.6M310.2 300.7h0.6M305.7 303.1h0.6M312.6 302.0h0.6M312.6 301.3h0.6M307.7 302.7h0.6M313.6 305.0h0.6M314.2 302.5h0.6M312.2 302.5h0.6M308.0 297.6h0.6M309.1 301.6h0.6M314.0 295.7h0.6M311.2 298.8h0.6M308.4 306.4h0.6M314.8 312.2h0.6M316.6 300.6h0.6M314.8 306.5h0.6M314.6 303.4h0.6M314.7 300.1h0.6M309.8 299.1h0.6M309.5 303.9h0.6M306.8 306.7h0.6M314.4 303.2h0.6M303.9 296.9h0.6M307.0 298.5h0.6M316.4 301.2h0.6M314.7 306.6h0.6M311.3 303.0h0.6M316.0 303.1h0.6M310.6 306.1h0.6M310.0 301.3h0.6M313.6 301.7h0.6M316.6 301.4h0.6M313.1 296.0h0.6M314.6 303.6h0.6M306.5 303.4h0.6M314.0 305.3h0.6M312.6 298.0h0.6M316.7 299.2h0.6M315.8 305.2h0.6M310.7 303.1h0.6M316.3 306.7h0.6M312.8 299.1h0.6M305.8 299.7h0.6M316.0 303.1h0.6M311.0 300.4h0.6M307.5 303.8h0.6M310.3 305.7h0.6M316.8 304.3h0.6M311.1 295.9h0.6M314.5 305.2h0.6M307.4 303.5h0.6M309.6 298.5h0.6M314.9 299.0h0.6M315.6 302.0h0.6M310.7 303.9h0.6M309.8 300.5h0.6M308.5 296.5h0.6M309.9 303.0h0.6M311.3 302.6h0.6M316.0 310.3h0.6M315.4 297.6h0.6M310.5 310.6h0.6M316.9 307.9h0.6M313.7 303.0h0.6M316.7 307.6h0.6M314.2 302.3h0.6M315.5 305.3h0.6M310.1 299.5h0.6M309.3 302.3h0.6M311.6 298.6h0.6M305.2 296.6h0.6M304.2 301.1h0.6M316.5 299.8h0.6M314.5 306.3h0.6M307.3 301.4h0.6M316.8 302.2h0.6M316.4 302.6h0.6M309.7 296.3h0.6M316.6 302.9h0.6M314.0 302.0h0.6M311.3 301.8h0.6M316.1 298.3h0.6M314.5 295.3h0.6M313.0 301.1h0.6M311.3 303.1h0.6M312.2 306.6h0.6M313.7 305.8h0.6M306.5 306.9h0.6M314.9 303.3h0.6M315.4 305.9h0.6M315.1 301.3h0.6M310.7 304.1h0.6M314.0 305.2h0.6M306.8 311.1h0.6M315.2 302.8h0.6M311.5 297.7h0.6M313.8 306.7h0.6M311.3 299.3h0.6M309.7 301.8h0.6M309.6 301.0h0.6M312.4 298.9h0.6M309.8 306.5h0.6M306.5 304.0h0.6M315.7 299.9h0.6M311.5 302.2h0.6M314.9 300.5h0.6M316.8 304.1h0.6M312.6 300.7h0.6M305.5 299.4h0.6M315.4 300.5h0.6M301.7 303.0h0.6M313.9 298.9h0.6M313.5 301.7h0.6M314.4 303.5h0.6M316.5 309.9h0.6M315.5 304.9h0.6M312.2 291.9h0.6M315.0 300.3h0.6M309.1 300.7h0.6M308.5 303.1h0.6M315.8 307.3h0.6M316.1 304.5h0.6M313.0 294.2h0.6M314.6 303.0h0.6M308.8 302.4h0.6M312.1 303.4h0.6M315.2 298.3h0.6M311.8 305.8h0.6M298.9 296.4h0.6M313.8 302.2h0.6M316.4 303.3h0.6M315.8 309.8h0.6M314.8 299.6h0.6M309.4 296.2h0.6M314.3 304.3h0.6M309.2 299.8h0.6M310.3 307.3h0.6M310.9 299.6h0.6M311.0 299.0h0.6M313.3 306.2h0.6M300.8 302.3h0.6M314.9 305.4h0.6M311.6 297.1h0.6M305.7 307.6h0.6M309.4 300.0h0.6M313.7 304.8h0.6M311.2 298.6h0.6M309.8 296.7h0.6M313.0 301.1h0.6M316.0 302.6h0.6M308.5 307.4h0.6M307.0 303.2h0.6M313.9 304.4h0.6M311.5 304.2h0.6M308.1 312.6h0.6M309.6 299.2h0.6M311.8 306.3h0.6M312.9 301.5h0.6M316.0 302.9h0.6M314.0 300.1h0.6M313.5 306.0h0.6M315.5 297.7h0.6M315.9 297.5h0.6M314.9 301.3h0.6M312.2 298.1h0.6M313.4 304.4h0.6M314.4 305.1h0.6M314.7 299.4h0.6M309.9 304.7h0.6M308.1 299.7h0.6M316.6 301.8h0.6M298.9 302.0h0.6M313.3 308.4h0.6M312.1 302.0h0.6M314.6 298.9h0.6M315.7 298.9h0.6M312.2 306.1h0.6M312.4 296.3h0.6M316.6 300.4h0.6M316.2 300.7h0.6M316.5 293.7h0.6M313.6 300.4h0.6M311.0 305.4h0.6M312.2 302.8h0.6M315.6 298.9h0.6M315.1 304.3h0.6M310.4 303.8h0.6M312.8 308.9h0.6M314.0 299.5h0.6M313.1 300.7h0.6M315.0 302.1h0.6M309.7 301.5h0.6M313.4 302.3h0.6M312.4 301.6h0.6M312.6 299.6h0.6M315.8 296.5h0.6M314.4 300.1h0.6M302.7 297.3h0.6M310.5 298.4h0.6M316.1 300.1h0.6M315.0 303.7h0.6M312.0 304.9h0.6M314.0 298.4h0.6M308.9 303.0h0.6M314.5 304.7h0.6M312.9 301.8h0.6M312.4 296.4h0.6M314.5 294.6h0.6M314.5 304.6h0.6M314.5 305.1h0.6M313.5 302.9h0.6M310.4 298.3h0.6M312.0 306.9h0.6M314.8 306.1h0.6M313.9 301.8h0.6M310.4 301.2h0.6M306.3 295.3h0.6M312.7 304.5h0.6M316.4 296.4h0.6" stroke="#151515" stroke-width="0.65" fill="none"/>
<ellipse cx="316.6" cy="302" rx="3.4" ry="5.4" fill="#0a0a0a"/>
<path d="M317.6 295.4 L320.0 295.0 L325.0 294.6 L330.0 295.4 L333.0 296.8 L334.2 299.0 L333.6 302.0 L331.0 305.0 L328.0 307.4 L325.0 308.5 L321.0 309.0 L317.6 308.8Z" fill="#ff9500"/>
<path d="M319.1 295.6h0.8M319.3 294.9h0.8M320.7 295.4h0.8M325.8 293.8h0.8M326.6 293.4h0.8M321.9 295.6h0.8M322.2 295.2h0.8M322.0 292.9h0.8M320.3 294.0h0.8M322.8 294.8h0.8M322.3 295.2h0.8M324.5 294.7h0.8M319.6 294.4h0.8M327.0 292.5h0.8M319.8 296.2h0.8M329.0 293.4h0.8M327.9 295.4h0.8M329.4 296.7h0.8M327.6 295.3h0.8M329.3 295.8h0.8M323.1 293.9h0.8M329.6 293.8h0.8M325.8 295.6h0.8M325.9 294.8h0.8M330.1 295.3h0.8M327.9 295.7h0.8M325.5 295.7h0.8M332.4 296.4h0.8M330.9 295.5h0.8M332.7 294.4h0.8M335.3 296.6h0.8M333.0 296.9h0.8M330.8 296.8h0.8M330.7 296.1h0.8M331.7 295.0h0.8M334.2 298.3h0.8M334.9 296.2h0.8M333.5 298.4h0.8M334.4 298.3h0.8M333.8 296.7h0.8M334.1 295.7h0.8M332.2 299.0h0.8M333.3 299.6h0.8M333.3 298.7h0.8M334.1 302.1h0.8M333.3 301.4h0.8M333.6 298.4h0.8M334.2 299.0h0.8M329.6 303.5h0.8M332.3 303.8h0.8M332.5 304.3h0.8M331.9 304.7h0.8M335.7 302.1h0.8M334.6 303.9h0.8M331.1 305.2h0.8M332.0 301.4h0.8M332.0 303.8h0.8M328.7 307.4h0.8M329.1 306.8h0.8M330.9 304.7h0.8M328.2 304.5h0.8M327.6 306.9h0.8M329.8 304.1h0.8M331.7 305.8h0.8M327.2 305.3h0.8M331.3 302.9h0.8M323.4 307.7h0.8M326.4 307.1h0.8M327.0 308.2h0.8M328.4 304.3h0.8M328.5 309.0h0.8M325.1 309.5h0.8M326.1 309.1h0.8M328.2 308.1h0.8M321.1 310.1h0.8M321.1 307.8h0.8M323.7 310.0h0.8M325.5 309.0h0.8M323.5 309.6h0.8M325.8 307.6h0.8M320.0 308.3h0.8M322.1 309.2h0.8M322.7 309.7h0.8M319.3 307.8h0.8M322.1 308.4h0.8M321.0 307.6h0.8M318.2 306.4h0.8M321.2 310.0h0.8M320.7 308.7h0.8M328.1 309.5h0.8M339.8 301.8h0.8M325.3 306.4h0.8M336.4 298.8h0.8M322.6 310.8h0.8M343.3 312.6h0.8M332.9 293.0h0.8M336.5 305.1h0.8M331.8 296.7h0.8M320.2 290.1h0.8M325.1 298.7h0.8M332.4 304.4h0.8M323.5 291.7h0.8M326.5 292.2h0.8M323.1 308.7h0.8M325.5 300.8h0.8M322.5 303.2h0.8M326.8 293.1h0.8M333.9 296.3h0.8M320.0 301.4h0.8M319.5 301.8h0.8M329.7 301.5h0.8M330.8 310.9h0.8M329.3 301.6h0.8M326.7 290.4h0.8M320.9 294.7h0.8M327.5 300.0h0.8M322.5 308.8h0.8M323.3 295.9h0.8M330.9 297.8h0.8M323.0 300.2h0.8M332.6 295.7h0.8M336.8 294.9h0.8M321.2 298.7h0.8M323.0 306.8h0.8M336.8 303.4h0.8M323.1 298.3h0.8M323.8 302.9h0.8M321.1 291.8h0.8M322.0 306.8h0.8M323.0 305.1h0.8M323.2 302.2h0.8M331.7 289.5h0.8M331.1 313.5h0.8" stroke="#ff9500" stroke-width="0.8" fill="none"/>
<line x1="317.5" y1="261.6" x2="317.5" y2="341.4" stroke="#d2455f" stroke-width="0.9"/>
<line x1="296.8" y1="318.5" x2="376.7" y2="318.5" stroke="#d2455f" stroke-width="0.9"/>
<rect x="296.8" y="261.6" width="79.9" height="79.8" fill="none" stroke="#222" stroke-width="1.1"/>
<line x1="294.6" y1="261.6" x2="376.7" y2="261.6" stroke="#222" stroke-width="1.4"/>
<line x1="296.8" y1="341.4" x2="296.8" y2="344" stroke="#222" stroke-width="0.75"/>
<line x1="294.2" y1="341.4" x2="296.8" y2="341.4" stroke="#222" stroke-width="0.75"/>
<line x1="300.68" y1="341.4" x2="300.68" y2="343.1" stroke="#222" stroke-width="0.75"/>
<line x1="295.1" y1="337.53" x2="296.8" y2="337.53" stroke="#222" stroke-width="0.75"/>
<line x1="302.95" y1="341.4" x2="302.95" y2="343.1" stroke="#222" stroke-width="0.75"/>
<line x1="295.1" y1="335.26" x2="296.8" y2="335.26" stroke="#222" stroke-width="0.75"/>
<line x1="304.56" y1="341.4" x2="304.56" y2="343.1" stroke="#222" stroke-width="0.75"/>
<line x1="295.1" y1="333.65" x2="296.8" y2="333.65" stroke="#222" stroke-width="0.75"/>
<line x1="305.81" y1="341.4" x2="305.81" y2="343.1" stroke="#222" stroke-width="0.75"/>
<line x1="295.1" y1="332.4" x2="296.8" y2="332.4" stroke="#222" stroke-width="0.75"/>
<line x1="306.83" y1="341.4" x2="306.83" y2="343.1" stroke="#222" stroke-width="0.75"/>
<line x1="295.1" y1="331.38" x2="296.8" y2="331.38" stroke="#222" stroke-width="0.75"/>
<line x1="307.69" y1="341.4" x2="307.69" y2="343.1" stroke="#222" stroke-width="0.75"/>
<line x1="295.1" y1="330.52" x2="296.8" y2="330.52" stroke="#222" stroke-width="0.75"/>
<line x1="308.44" y1="341.4" x2="308.44" y2="343.1" stroke="#222" stroke-width="0.75"/>
<line x1="295.1" y1="329.78" x2="296.8" y2="329.78" stroke="#222" stroke-width="0.75"/>
<line x1="309.1" y1="341.4" x2="309.1" y2="343.1" stroke="#222" stroke-width="0.75"/>
<line x1="295.1" y1="329.12" x2="296.8" y2="329.12" stroke="#222" stroke-width="0.75"/>
<line x1="309.69" y1="341.4" x2="309.69" y2="344" stroke="#222" stroke-width="0.75"/>
<line x1="294.2" y1="328.53" x2="296.8" y2="328.53" stroke="#222" stroke-width="0.75"/>
<line x1="313.57" y1="341.4" x2="313.57" y2="343.1" stroke="#222" stroke-width="0.75"/>
<line x1="295.1" y1="324.65" x2="296.8" y2="324.65" stroke="#222" stroke-width="0.75"/>
<line x1="315.84" y1="341.4" x2="315.84" y2="343.1" stroke="#222" stroke-width="0.75"/>
<line x1="295.1" y1="322.39" x2="296.8" y2="322.39" stroke="#222" stroke-width="0.75"/>
<line x1="317.45" y1="341.4" x2="317.45" y2="343.1" stroke="#222" stroke-width="0.75"/>
<line x1="295.1" y1="320.78" x2="296.8" y2="320.78" stroke="#222" stroke-width="0.75"/>
<line x1="318.69" y1="341.4" x2="318.69" y2="343.1" stroke="#222" stroke-width="0.75"/>
<line x1="295.1" y1="319.53" x2="296.8" y2="319.53" stroke="#222" stroke-width="0.75"/>
<line x1="319.72" y1="341.4" x2="319.72" y2="343.1" stroke="#222" stroke-width="0.75"/>
<line x1="295.1" y1="318.51" x2="296.8" y2="318.51" stroke="#222" stroke-width="0.75"/>
<line x1="320.58" y1="341.4" x2="320.58" y2="343.1" stroke="#222" stroke-width="0.75"/>
<line x1="295.1" y1="317.65" x2="296.8" y2="317.65" stroke="#222" stroke-width="0.75"/>
<line x1="321.33" y1="341.4" x2="321.33" y2="343.1" stroke="#222" stroke-width="0.75"/>
<line x1="295.1" y1="316.91" x2="296.8" y2="316.91" stroke="#222" stroke-width="0.75"/>
<line x1="321.98" y1="341.4" x2="321.98" y2="343.1" stroke="#222" stroke-width="0.75"/>
<line x1="295.1" y1="316.25" x2="296.8" y2="316.25" stroke="#222" stroke-width="0.75"/>
<line x1="322.57" y1="341.4" x2="322.57" y2="344" stroke="#222" stroke-width="0.75"/>
<line x1="294.2" y1="315.66" x2="296.8" y2="315.66" stroke="#222" stroke-width="0.75"/>
<line x1="326.45" y1="341.4" x2="326.45" y2="343.1" stroke="#222" stroke-width="0.75"/>
<line x1="295.1" y1="311.78" x2="296.8" y2="311.78" stroke="#222" stroke-width="0.75"/>
<line x1="328.72" y1="341.4" x2="328.72" y2="343.1" stroke="#222" stroke-width="0.75"/>
<line x1="295.1" y1="309.52" x2="296.8" y2="309.52" stroke="#222" stroke-width="0.75"/>
<line x1="330.33" y1="341.4" x2="330.33" y2="343.1" stroke="#222" stroke-width="0.75"/>
<line x1="295.1" y1="307.91" x2="296.8" y2="307.91" stroke="#222" stroke-width="0.75"/>
<line x1="331.58" y1="341.4" x2="331.58" y2="343.1" stroke="#222" stroke-width="0.75"/>
<line x1="295.1" y1="306.66" x2="296.8" y2="306.66" stroke="#222" stroke-width="0.75"/>
<line x1="332.6" y1="341.4" x2="332.6" y2="343.1" stroke="#222" stroke-width="0.75"/>
<line x1="295.1" y1="305.64" x2="296.8" y2="305.64" stroke="#222" stroke-width="0.75"/>
<line x1="333.47" y1="341.4" x2="333.47" y2="343.1" stroke="#222" stroke-width="0.75"/>
<line x1="295.1" y1="304.78" x2="296.8" y2="304.78" stroke="#222" stroke-width="0.75"/>
<line x1="334.21" y1="341.4" x2="334.21" y2="343.1" stroke="#222" stroke-width="0.75"/>
<line x1="295.1" y1="304.03" x2="296.8" y2="304.03" stroke="#222" stroke-width="0.75"/>
<line x1="334.87" y1="341.4" x2="334.87" y2="343.1" stroke="#222" stroke-width="0.75"/>
<line x1="295.1" y1="303.38" x2="296.8" y2="303.38" stroke="#222" stroke-width="0.75"/>
<line x1="335.46" y1="341.4" x2="335.46" y2="344" stroke="#222" stroke-width="0.75"/>
<line x1="294.2" y1="302.79" x2="296.8" y2="302.79" stroke="#222" stroke-width="0.75"/>
<line x1="339.34" y1="341.4" x2="339.34" y2="343.1" stroke="#222" stroke-width="0.75"/>
<line x1="295.1" y1="298.91" x2="296.8" y2="298.91" stroke="#222" stroke-width="0.75"/>
<line x1="341.61" y1="341.4" x2="341.61" y2="343.1" stroke="#222" stroke-width="0.75"/>
<line x1="295.1" y1="296.65" x2="296.8" y2="296.65" stroke="#222" stroke-width="0.75"/>
<line x1="343.22" y1="341.4" x2="343.22" y2="343.1" stroke="#222" stroke-width="0.75"/>
<line x1="295.1" y1="295.04" x2="296.8" y2="295.04" stroke="#222" stroke-width="0.75"/>
<line x1="344.47" y1="341.4" x2="344.47" y2="343.1" stroke="#222" stroke-width="0.75"/>
<line x1="295.1" y1="293.79" x2="296.8" y2="293.79" stroke="#222" stroke-width="0.75"/>
<line x1="345.49" y1="341.4" x2="345.49" y2="343.1" stroke="#222" stroke-width="0.75"/>
<line x1="295.1" y1="292.77" x2="296.8" y2="292.77" stroke="#222" stroke-width="0.75"/>
<line x1="346.35" y1="341.4" x2="346.35" y2="343.1" stroke="#222" stroke-width="0.75"/>
<line x1="295.1" y1="291.91" x2="296.8" y2="291.91" stroke="#222" stroke-width="0.75"/>
<line x1="347.1" y1="341.4" x2="347.1" y2="343.1" stroke="#222" stroke-width="0.75"/>
<line x1="295.1" y1="291.16" x2="296.8" y2="291.16" stroke="#222" stroke-width="0.75"/>
<line x1="347.76" y1="341.4" x2="347.76" y2="343.1" stroke="#222" stroke-width="0.75"/>
<line x1="295.1" y1="290.51" x2="296.8" y2="290.51" stroke="#222" stroke-width="0.75"/>
<line x1="348.35" y1="341.4" x2="348.35" y2="344" stroke="#222" stroke-width="0.75"/>
<line x1="294.2" y1="289.92" x2="296.8" y2="289.92" stroke="#222" stroke-width="0.75"/>
<line x1="352.23" y1="341.4" x2="352.23" y2="343.1" stroke="#222" stroke-width="0.75"/>
<line x1="295.1" y1="286.04" x2="296.8" y2="286.04" stroke="#222" stroke-width="0.75"/>
<line x1="354.5" y1="341.4" x2="354.5" y2="343.1" stroke="#222" stroke-width="0.75"/>
<line x1="295.1" y1="283.78" x2="296.8" y2="283.78" stroke="#222" stroke-width="0.75"/>
<line x1="356.11" y1="341.4" x2="356.11" y2="343.1" stroke="#222" stroke-width="0.75"/>
<line x1="295.1" y1="282.17" x2="296.8" y2="282.17" stroke="#222" stroke-width="0.75"/>
<line x1="357.36" y1="341.4" x2="357.36" y2="343.1" stroke="#222" stroke-width="0.75"/>
<line x1="295.1" y1="280.92" x2="296.8" y2="280.92" stroke="#222" stroke-width="0.75"/>
<line x1="358.38" y1="341.4" x2="358.38" y2="343.1" stroke="#222" stroke-width="0.75"/>
<line x1="295.1" y1="279.9" x2="296.8" y2="279.9" stroke="#222" stroke-width="0.75"/>
<line x1="359.24" y1="341.4" x2="359.24" y2="343.1" stroke="#222" stroke-width="0.75"/>
<line x1="295.1" y1="279.04" x2="296.8" y2="279.04" stroke="#222" stroke-width="0.75"/>
<line x1="359.99" y1="341.4" x2="359.99" y2="343.1" stroke="#222" stroke-width="0.75"/>
<line x1="295.1" y1="278.29" x2="296.8" y2="278.29" stroke="#222" stroke-width="0.75"/>
<line x1="360.65" y1="341.4" x2="360.65" y2="343.1" stroke="#222" stroke-width="0.75"/>
<line x1="295.1" y1="277.63" x2="296.8" y2="277.63" stroke="#222" stroke-width="0.75"/>
<line x1="361.24" y1="341.4" x2="361.24" y2="344" stroke="#222" stroke-width="0.75"/>
<line x1="294.2" y1="277.05" x2="296.8" y2="277.05" stroke="#222" stroke-width="0.75"/>
<line x1="365.11" y1="341.4" x2="365.11" y2="343.1" stroke="#222" stroke-width="0.75"/>
<line x1="295.1" y1="273.17" x2="296.8" y2="273.17" stroke="#222" stroke-width="0.75"/>
<line x1="367.38" y1="341.4" x2="367.38" y2="343.1" stroke="#222" stroke-width="0.75"/>
<line x1="295.1" y1="270.9" x2="296.8" y2="270.9" stroke="#222" stroke-width="0.75"/>
<line x1="368.99" y1="341.4" x2="368.99" y2="343.1" stroke="#222" stroke-width="0.75"/>
<line x1="295.1" y1="269.3" x2="296.8" y2="269.3" stroke="#222" stroke-width="0.75"/>
<line x1="370.24" y1="341.4" x2="370.24" y2="343.1" stroke="#222" stroke-width="0.75"/>
<line x1="295.1" y1="268.05" x2="296.8" y2="268.05" stroke="#222" stroke-width="0.75"/>
<line x1="371.26" y1="341.4" x2="371.26" y2="343.1" stroke="#222" stroke-width="0.75"/>
<line x1="295.1" y1="267.03" x2="296.8" y2="267.03" stroke="#222" stroke-width="0.75"/>
<line x1="372.13" y1="341.4" x2="372.13" y2="343.1" stroke="#222" stroke-width="0.75"/>
<line x1="295.1" y1="266.17" x2="296.8" y2="266.17" stroke="#222" stroke-width="0.75"/>
<line x1="372.87" y1="341.4" x2="372.87" y2="343.1" stroke="#222" stroke-width="0.75"/>
<line x1="295.1" y1="265.42" x2="296.8" y2="265.42" stroke="#222" stroke-width="0.75"/>
<line x1="373.53" y1="341.4" x2="373.53" y2="343.1" stroke="#222" stroke-width="0.75"/>
<line x1="295.1" y1="264.76" x2="296.8" y2="264.76" stroke="#222" stroke-width="0.75"/>
<line x1="374.12" y1="341.4" x2="374.12" y2="344" stroke="#222" stroke-width="0.75"/>
<line x1="294.2" y1="264.17" x2="296.8" y2="264.17" stroke="#222" stroke-width="0.75"/>
<text x="295.6" y="352.4" font-size="6.6" text-anchor="middle" stroke="#1a1a1a" stroke-width="0.2">10<tspan font-size="4.2" dy="-2.6">1</tspan></text>
<text transform="translate(291.8 339.8) rotate(-90)" font-size="6.6" text-anchor="middle" stroke="#1a1a1a" stroke-width="0.2">10<tspan font-size="4.2" dy="-2.6">1</tspan></text>
<text x="308.49" y="352.4" font-size="6.6" text-anchor="middle" stroke="#1a1a1a" stroke-width="0.2">10<tspan font-size="4.2" dy="-2.6">2</tspan></text>
<text transform="translate(291.8 326.93) rotate(-90)" font-size="6.6" text-anchor="middle" stroke="#1a1a1a" stroke-width="0.2">10<tspan font-size="4.2" dy="-2.6">2</tspan></text>
<text x="321.37" y="352.4" font-size="6.6" text-anchor="middle" stroke="#1a1a1a" stroke-width="0.2">10<tspan font-size="4.2" dy="-2.6">3</tspan></text>
<text transform="translate(291.8 314.06) rotate(-90)" font-size="6.6" text-anchor="middle" stroke="#1a1a1a" stroke-width="0.2">10<tspan font-size="4.2" dy="-2.6">3</tspan></text>
<text x="334.26" y="352.4" font-size="6.6" text-anchor="middle" stroke="#1a1a1a" stroke-width="0.2">10<tspan font-size="4.2" dy="-2.6">4</tspan></text>
<text transform="translate(291.8 301.19) rotate(-90)" font-size="6.6" text-anchor="middle" stroke="#1a1a1a" stroke-width="0.2">10<tspan font-size="4.2" dy="-2.6">4</tspan></text>
<text x="347.15" y="352.4" font-size="6.6" text-anchor="middle" stroke="#1a1a1a" stroke-width="0.2">10<tspan font-size="4.2" dy="-2.6">5</tspan></text>
<text transform="translate(291.8 288.32) rotate(-90)" font-size="6.6" text-anchor="middle" stroke="#1a1a1a" stroke-width="0.2">10<tspan font-size="4.2" dy="-2.6">5</tspan></text>
<text x="360.04" y="352.4" font-size="6.6" text-anchor="middle" stroke="#1a1a1a" stroke-width="0.2">10<tspan font-size="4.2" dy="-2.6">6</tspan></text>
<text transform="translate(291.8 275.45) rotate(-90)" font-size="6.6" text-anchor="middle" stroke="#1a1a1a" stroke-width="0.2">10<tspan font-size="4.2" dy="-2.6">6</tspan></text>
<text x="375.5" y="352.4" font-size="6.6" text-anchor="middle" stroke="#1a1a1a" stroke-width="0.2">10<tspan font-size="4.2" dy="-2.6">7.2</tspan></text>
<text transform="translate(291.8 260) rotate(-90)" font-size="6.6" text-anchor="middle" stroke="#1a1a1a" stroke-width="0.2">10<tspan font-size="4.2" dy="-2.6">7.2</tspan></text>
<text x="296.2" y="259" font-size="7.6" stroke="#1a1a1a" stroke-width="0.2">24h</text>
<text x="299.2" y="269.7" font-size="7" fill="#c9173f" stroke="#c9173f" stroke-width="0.2">New</text>
<text x="299.2" y="278.3" font-size="7" fill="#c9173f" stroke="#c9173f" stroke-width="0.2">9.0%</text>
<text x="353.4" y="269.7" font-size="7" fill="#f7a81e" stroke="#f7a81e" stroke-width="0.2">Old</text>
<text x="353.4" y="278.3" font-size="7.2" fill="#f7a81e" stroke="#f7a81e" stroke-width="0.2">91.0%</text>
<text x="299.4" y="328.4" font-size="7.4" fill="#c9173f" stroke="#c9173f" stroke-width="0.2" letter-spacing="0.5">-/-</text>
<text x="299.4" y="338.2" font-size="7" fill="#c9173f" stroke="#c9173f" stroke-width="0.2">0.0%</text>
<text x="373.4" y="338.2" font-size="7" text-anchor="end" fill="#c9173f" stroke="#c9173f" stroke-width="0.2">0.0%</text>
<text transform="translate(277.8 301.7) rotate(-90) scale(0.756 1)" font-size="8" text-anchor="middle" font-weight="bold">APC &#8211; CD41a</text>
<text transform="translate(227.4 361.6) scale(0.851 1)" font-size="7.6" text-anchor="middle" stroke="#1a1a1a" stroke-width="0.35">FITC &#8211; Strept/Biotin</text>
<line x1="261.3" y1="359.5" x2="372.5" y2="359.5" stroke="#111" stroke-width="1.1"/>
<path d="M376.6 359.2 L371.2 357.0 L371.2 361.4 Z" fill="#111"/>
<line x1="443.3" y1="263.7" x2="443.3" y2="341.25" stroke="#1a1a1a" stroke-width="1.3"/>
<line x1="440.5" y1="340.5" x2="443.3" y2="340.5" stroke="#222" stroke-width="1"/>
<text x="437.9" y="343.3" font-size="7.5" text-anchor="end" stroke="#1a1a1a" stroke-width="0.2">0</text>
<line x1="440.5" y1="322.5" x2="443.3" y2="322.5" stroke="#222" stroke-width="1"/>
<text x="437.9" y="325.35" font-size="7.5" text-anchor="end" stroke="#1a1a1a" stroke-width="0.2">5</text>
<line x1="440.5" y1="304.5" x2="443.3" y2="304.5" stroke="#222" stroke-width="1"/>
<text x="437.9" y="307.4" font-size="7.5" text-anchor="end" stroke="#1a1a1a" stroke-width="0.2">10</text>
<line x1="440.5" y1="286.5" x2="443.3" y2="286.5" stroke="#222" stroke-width="1"/>
<text x="437.9" y="289.45" font-size="7.5" text-anchor="end" stroke="#1a1a1a" stroke-width="0.2">15</text>
<line x1="440.5" y1="268.5" x2="443.3" y2="268.5" stroke="#222" stroke-width="1"/>
<text x="437.9" y="271.5" font-size="7.5" text-anchor="end" stroke="#1a1a1a" stroke-width="0.2">20</text>
<rect x="459.6" y="300.8" width="16.8" height="39.8" fill="#a3dca3"/>
<line x1="442.65" y1="340.6" x2="503.8" y2="340.6" stroke="#1a1a1a" stroke-width="1.3"/>
<line x1="468.5" y1="340.6" x2="468.5" y2="343" stroke="#222" stroke-width="1"/>
<line x1="468.1" y1="282.3" x2="468.1" y2="318.8" stroke="#4a4a4a" stroke-width="1.2"/>
<line x1="464.85" y1="282.3" x2="471.35" y2="282.3" stroke="#4a4a4a" stroke-width="1.2"/>
<line x1="464.85" y1="318.8" x2="471.35" y2="318.8" stroke="#4a4a4a" stroke-width="1.2"/>
<circle cx="468.1" cy="273.7" r="1.7" fill="#2fb84c"/>
<circle cx="463.8" cy="308.5" r="1.7" fill="#2fb84c"/>
<circle cx="471.4" cy="308.5" r="1.7" fill="#2fb84c"/>
<circle cx="468.1" cy="312.7" r="1.7" fill="#2fb84c"/>
<text transform="translate(468.1 354.6) scale(0.655 1)" font-size="9" text-anchor="middle" stroke="#1a1a1a" stroke-width="0.35">Day 1</text>
<text transform="translate(424.9 305.5) rotate(-90) scale(0.717 1)" font-size="9" text-anchor="middle" stroke="#1a1a1a" stroke-width="0.35">% Immature platelets</text>
<line x1="443.8" y1="393.9" x2="443.8" y2="472.15" stroke="#1a1a1a" stroke-width="1.3"/>
<line x1="441" y1="471.5" x2="443.8" y2="471.5" stroke="#222" stroke-width="1"/>
<text x="438.4" y="474.2" font-size="7.5" text-anchor="end" stroke="#1a1a1a" stroke-width="0.2">0</text>
<line x1="441" y1="453.5" x2="443.8" y2="453.5" stroke="#222" stroke-width="1"/>
<text x="438.4" y="456.18" font-size="7.5" text-anchor="end" stroke="#1a1a1a" stroke-width="0.2">500</text>
<line x1="441" y1="435.5" x2="443.8" y2="435.5" stroke="#222" stroke-width="1"/>
<text x="438.4" y="438.15" font-size="7.5" text-anchor="end" stroke="#1a1a1a" stroke-width="0.2">1000</text>
<line x1="441" y1="417.5" x2="443.8" y2="417.5" stroke="#222" stroke-width="1"/>
<text x="438.4" y="420.12" font-size="7.5" text-anchor="end" stroke="#1a1a1a" stroke-width="0.2">1500</text>
<line x1="441" y1="399.5" x2="443.8" y2="399.5" stroke="#222" stroke-width="1"/>
<text x="438.4" y="402.1" font-size="7.5" text-anchor="end" stroke="#1a1a1a" stroke-width="0.2">2000</text>
<rect x="451.1" y="422.9" width="14.1" height="48.6" fill="#e07f8f"/>
<rect x="473" y="424.2" width="14" height="47.3" fill="#a3dca3"/>
<rect x="495" y="469.8" width="13.5" height="1.7" fill="#7fa3c6"/>
<line x1="443.15" y1="471.5" x2="509.5" y2="471.5" stroke="#1a1a1a" stroke-width="1.3"/>
<line x1="458.5" y1="471.5" x2="458.5" y2="474.7" stroke="#222" stroke-width="1"/>
<line x1="479.5" y1="471.5" x2="479.5" y2="474.7" stroke="#222" stroke-width="1"/>
<line x1="501.5" y1="471.5" x2="501.5" y2="474.7" stroke="#222" stroke-width="1"/>
<line x1="458.5" y1="414.4" x2="458.5" y2="432.6" stroke="#333" stroke-width="1.1"/>
<line x1="455.1" y1="414.5" x2="461.1" y2="414.5" stroke="#333" stroke-width="1.1"/>
<line x1="455.1" y1="432.5" x2="461.1" y2="432.5" stroke="#333" stroke-width="1.1"/>
<line x1="479.5" y1="413.3" x2="479.5" y2="435.7" stroke="#333" stroke-width="1.1"/>
<line x1="476.7" y1="413.5" x2="482.7" y2="413.5" stroke="#333" stroke-width="1.1"/>
<line x1="476.7" y1="435.5" x2="482.7" y2="435.5" stroke="#333" stroke-width="1.1"/>
<line x1="501.5" y1="467" x2="501.5" y2="471.5" stroke="#1a1a1a" stroke-width="1"/>
<line x1="499" y1="467.5" x2="504" y2="467.5" stroke="#1a1a1a" stroke-width="1"/>
<line x1="499" y1="471.5" x2="504" y2="471.5" stroke="#1a1a1a" stroke-width="1"/>
<circle cx="454.4" cy="416" r="1.6" fill="#cc0a2f"/>
<circle cx="461.8" cy="415.5" r="1.6" fill="#cc0a2f"/>
<circle cx="461.8" cy="429.6" r="1.6" fill="#cc0a2f"/>
<circle cx="454.4" cy="433" r="1.6" fill="#cc0a2f"/>
<circle cx="479.7" cy="412.4" r="1.6" fill="#2fb84c"/>
<circle cx="479.7" cy="417.5" r="1.6" fill="#2fb84c"/>
<circle cx="479.7" cy="431.5" r="1.6" fill="#2fb84c"/>
<circle cx="479.7" cy="436.4" r="1.6" fill="#2fb84c"/>
<circle cx="495.9" cy="471.6" r="1.6" fill="#0f4c8a"/>
<circle cx="501.5" cy="466.9" r="1.6" fill="#0f4c8a"/>
<circle cx="501.5" cy="471" r="1.6" fill="#0f4c8a"/>
<circle cx="506.9" cy="471.6" r="1.6" fill="#0f4c8a"/>
<line x1="454.6" y1="404.5" x2="496.9" y2="404.5" stroke="#1a1a1a" stroke-width="1"/>
<path d="M472.50 397.65L473.12 398.90L474.50 399.10L473.50 400.07L473.73 401.45L472.50 400.80L471.27 401.45L471.50 400.07L470.50 399.10L471.88 398.90ZM477.60 397.65L478.22 398.90L479.60 399.10L478.60 400.07L478.83 401.45L477.60 400.80L476.37 401.45L476.60 400.07L475.60 399.10L476.98 398.90Z" fill="#111" stroke="#111" stroke-width="0.4"/>
<text transform="translate(412.6 435.2) rotate(-90) scale(0.712 1)" font-size="9" text-anchor="middle" stroke="#1a1a1a" stroke-width="0.35">Biotin/Streptavidin MFI</text>
<text transform="translate(461.1 480.7) rotate(-45)" font-size="7.6" text-anchor="end" stroke="#1a1a1a" stroke-width="0.2">Platelets</text>
<text transform="translate(482.9 480.7) rotate(-45)" font-size="7.6" text-anchor="end" stroke="#1a1a1a" stroke-width="0.2">Preplatelets</text>
<text transform="translate(504.6 480.7) rotate(-45)" font-size="7.6" text-anchor="end" stroke="#1a1a1a" stroke-width="0.2">Barbells</text>
<text x="221.5" y="380.6" font-size="8.9" text-anchor="middle" stroke="#1a1a1a" stroke-width="0.2">Biotin+ Platelets</text>
<text x="334" y="380" font-size="8.9" text-anchor="middle" stroke="#1a1a1a" stroke-width="0.2">Biotin&#8211; Platelets</text>
<rect x="168.1" y="383.2" width="106.7" height="108.8" fill="#000"/>
<line x1="169.6" y1="403.5" x2="273.3" y2="403.5" stroke="#262626" stroke-width="1"/>
<line x1="169.6" y1="426.5" x2="273.3" y2="426.5" stroke="#262626" stroke-width="1"/>
<line x1="169.6" y1="450.5" x2="273.3" y2="450.5" stroke="#262626" stroke-width="1"/>
<line x1="169.6" y1="471.5" x2="273.3" y2="471.5" stroke="#262626" stroke-width="1"/>
<rect x="170.8" y="487.2" width="9.2" height="2.5" fill="#fff"/>
<rect x="281.2" y="383.6" width="105.5" height="124.1" fill="#000"/>
<line x1="282.7" y1="404.5" x2="385.2" y2="404.5" stroke="#262626" stroke-width="1"/>
<line x1="282.7" y1="435.5" x2="385.2" y2="435.5" stroke="#262626" stroke-width="1"/>
<line x1="282.7" y1="459.5" x2="385.2" y2="459.5" stroke="#262626" stroke-width="1"/>
<line x1="282.7" y1="487.5" x2="385.2" y2="487.5" stroke="#262626" stroke-width="1"/>
<rect x="283.5" y="504.2" width="9.2" height="2" fill="#fff"/>
<ellipse cx="194" cy="393.4" rx="1.9" ry="2.3" fill="#f5361c"/>
<ellipse cx="194.2" cy="415.2" rx="1.5" ry="2.2" fill="#f5361c"/>
<ellipse cx="193.8" cy="438.9" rx="2.6" ry="2.6" fill="#f5361c"/>
<ellipse cx="194.9" cy="460.3" rx="2.5" ry="2.3" fill="#f5361c"/>
<ellipse cx="194.6" cy="482.6" rx="1.8" ry="2" fill="#f5361c"/>
<ellipse cx="247.7" cy="393.4" rx="2.2" ry="2.4" fill="#fff200"/>
<ellipse cx="247.7" cy="415.4" rx="1.5" ry="2.3" fill="#fff200"/>
<ellipse cx="248.1" cy="438.3" rx="2.5" ry="2.6" fill="#a89a10"/>
<ellipse cx="248.4" cy="460" rx="2.5" ry="2.5" fill="#a89a10"/>
<ellipse cx="248.1" cy="482.3" rx="2.2" ry="2.2" fill="#a89a10"/>
<ellipse cx="307.2" cy="394.4" rx="3.1" ry="2.9" fill="#f5361c" filter="url(#bl)"/>
<g filter="url(#bl)">
<path d="M305.0 410.2 L306.6 409.8 L307.0 414 L306.7 419 L305.9 421 L305.0 419 L304.9 414 Z" fill="#f5361c"/>
<ellipse cx="305.9" cy="423.2" rx="2.2" ry="3.2" fill="#b8281a"/>
<ellipse cx="305.9" cy="421.5" rx="1.3" ry="1.8" fill="#f5361c"/>
</g>
<ellipse cx="307.2" cy="447.9" rx="3.2" ry="2.8" fill="#f5361c" filter="url(#bl)"/>
<g filter="url(#bl)">
<path d="M306.0 466.8 L307.8 466.6 L308.0 471 L309.2 476.5 L308.8 480.0 L307.4 480.2 L306.6 476 L306.0 471 Z" fill="#f5361c"/>
</g>
<ellipse cx="307.2" cy="497.7" rx="2.2" ry="1.9" fill="#f5361c" filter="url(#bl)"/>
<ellipse cx="360.5" cy="394.5" rx="1.6" ry="2.2" fill="#131304"/>
<ellipse cx="360.3" cy="418" rx="1.6" ry="2.2" fill="#131304"/>
<ellipse cx="360.5" cy="447.8" rx="1.6" ry="2.2" fill="#131304"/>
<ellipse cx="360.5" cy="472" rx="1.6" ry="2.2" fill="#131304"/>
<ellipse cx="360.5" cy="497" rx="1.6" ry="2.2" fill="#131304"/>
<rect x="179.2" y="497.7" width="7.7" height="7.3" fill="#c8102e"/>
<text x="190" y="504.6" font-size="7.6" stroke="#1a1a1a" stroke-width="0.2">CD41</text>
<rect x="235.5" y="497.7" width="7.5" height="7.3" fill="#fbb22a"/>
<text x="245.8" y="504.6" font-size="8" stroke="#1a1a1a" stroke-width="0.2">Biotin</text>
<text x="120.6" y="524.8" font-size="11" fill="#000" font-weight="bold" stroke="#000" stroke-width="0.35">F</text>
<path d="M154.6 643.2 L156.0 632.0 L157.2 612.0 L158.3 590.0 L159.2 572.0 L160.0 560.0 L160.6 548.0 L161.0 536.0 L161.5 534.5 L161.9 548.0 L162.5 561.0 L163.4 558.0 L164.3 557.0 L165.0 562.0 L165.8 578.0 L166.6 594.0 L167.5 608.0 L168.6 620.0 L169.8 630.0 L171.2 636.0 L173.0 640.0 L176.0 641.6 L180.0 642.2 L186.0 642.6 L190.6 642.6 L191.0 635.5 L191.5 642.6 L200.0 642.8 L230.0 643.0 L270.0 643.0 L270.0 643.2 Z" fill="#d9d9d9"/>
<line x1="158.5" y1="575" x2="158.5" y2="640" stroke="#e6e6e6" stroke-width="0.5"/>
<line x1="160.5" y1="575" x2="160.5" y2="640" stroke="#e6e6e6" stroke-width="0.5"/>
<line x1="162.5" y1="575" x2="162.5" y2="640" stroke="#e6e6e6" stroke-width="0.5"/>
<line x1="164.5" y1="575" x2="164.5" y2="640" stroke="#e6e6e6" stroke-width="0.5"/>
<path d="M289.9 643.2 L291.0 636.0 L292.1 627.7 L293.2 616.0 L294.3 604.0 L295.4 589.0 L296.5 574.5 L297.3 563.0 L298.0 555.3 L298.8 553.0 L299.5 555.0 L300.2 558.3 L301.0 566.0 L301.7 574.5 L302.5 589.0 L303.2 604.0 L304.3 614.0 L305.4 623.2 L306.8 629.0 L308.4 633.6 L310.5 636.8 L313.5 639.5 L317.0 641.2 L320.0 642.2 L322.4 643.0 L322.4 643.2 Z" fill="#ff8a00"/>
<line x1="296.5" y1="560" x2="296.5" y2="600" stroke="#ffa640" stroke-width="0.45"/>
<line x1="298.5" y1="560" x2="298.5" y2="600" stroke="#ffa640" stroke-width="0.45"/>
<line x1="300.5" y1="560" x2="300.5" y2="600" stroke="#ffa640" stroke-width="0.45"/>
<line x1="301.5" y1="560" x2="301.5" y2="600" stroke="#ffa640" stroke-width="0.45"/>
<line x1="143.6" y1="524.7" x2="143.6" y2="643.85" stroke="#1a1a1a" stroke-width="1.3"/>
<line x1="140.8" y1="642.5" x2="143.6" y2="642.5" stroke="#222" stroke-width="1"/>
<text x="138.2" y="645.35" font-size="6.8" text-anchor="end" stroke="#1a1a1a" stroke-width="0.2">0</text>
<line x1="140.8" y1="617.5" x2="143.6" y2="617.5" stroke="#222" stroke-width="1"/>
<text x="138.2" y="620.15" font-size="6.8" text-anchor="end" stroke="#1a1a1a" stroke-width="0.2">1</text>
<line x1="140.8" y1="592.5" x2="143.6" y2="592.5" stroke="#222" stroke-width="1"/>
<text x="138.2" y="594.95" font-size="6.8" text-anchor="end" stroke="#1a1a1a" stroke-width="0.2">2</text>
<line x1="140.8" y1="567.5" x2="143.6" y2="567.5" stroke="#222" stroke-width="1"/>
<text x="138.2" y="569.75" font-size="6.8" text-anchor="end" stroke="#1a1a1a" stroke-width="0.2">3</text>
<line x1="140.8" y1="542.5" x2="143.6" y2="542.5" stroke="#222" stroke-width="1"/>
<text x="138.2" y="544.55" font-size="6.8" text-anchor="end" stroke="#1a1a1a" stroke-width="0.2">4</text>
<line x1="277.5" y1="524.5" x2="277.5" y2="643.2" stroke="#1a1a1a" stroke-width="1.2"/>
<line x1="143" y1="643.2" x2="411.9" y2="643.2" stroke="#1a1a1a" stroke-width="1.2"/>
<line x1="152.5" y1="643.2" x2="152.5" y2="646.2" stroke="#222" stroke-width="1"/>
<text x="152.9" y="656.6" font-size="9" text-anchor="middle" stroke="#1a1a1a" stroke-width="0.2">0</text>
<line x1="201.5" y1="643.2" x2="201.5" y2="646.2" stroke="#222" stroke-width="1"/>
<text x="201.8" y="656.6" font-size="9" text-anchor="middle" stroke="#1a1a1a" stroke-width="0.2">30</text>
<line x1="250.5" y1="643.2" x2="250.5" y2="646.2" stroke="#222" stroke-width="1"/>
<text x="250.8" y="656.6" font-size="9" text-anchor="middle" stroke="#1a1a1a" stroke-width="0.2">60</text>
<line x1="287.5" y1="643.2" x2="287.5" y2="646.2" stroke="#222" stroke-width="1"/>
<text x="287.3" y="656.6" font-size="9" text-anchor="middle" stroke="#1a1a1a" stroke-width="0.2">0</text>
<line x1="335.5" y1="643.2" x2="335.5" y2="646.2" stroke="#222" stroke-width="1"/>
<text x="335.8" y="656.6" font-size="9" text-anchor="middle" stroke="#1a1a1a" stroke-width="0.2">30</text>
<line x1="384.5" y1="643.2" x2="384.5" y2="646.2" stroke="#222" stroke-width="1"/>
<text x="384.7" y="656.6" font-size="9" text-anchor="middle" stroke="#1a1a1a" stroke-width="0.2">60</text>
<text transform="translate(129.4 592.5) rotate(-90) scale(0.691 1)" font-size="9" text-anchor="middle" stroke="#1a1a1a" stroke-width="0.35">Normalized frequency</text>
<text transform="translate(209.2 668.2) scale(0.805 1)" font-size="7.8" text-anchor="middle" stroke="#1a1a1a" stroke-width="0.35">Area CD41_M</text>
<line x1="234.3" y1="665.5" x2="400.5" y2="665.5" stroke="#111" stroke-width="1"/>
<path d="M404.0 665.6 L399.2 663.3 L399.2 667.9 Z" fill="#111"/>
<rect x="144.7" y="525.1" width="31" height="8.8" fill="#939393"/>
<rect x="146" y="532.1" width="4.8" height="0.8" fill="#cfcfcf"/>
<circle cx="159.5" cy="528.7" r="0.6" fill="#e8e8e8"/>
<rect x="173.4" y="548.7" width="30.8" height="13" fill="#939393"/>
<rect x="174.7" y="559.9" width="4.8" height="0.8" fill="#cfcfcf"/>
<circle cx="188.2" cy="555.3" r="1.6" fill="none" stroke="#dcdcdc" stroke-width="0.7"/>
<rect x="189.3" y="609.9" width="30.8" height="16.1" fill="#939393"/>
<rect x="190.6" y="624.2" width="4.8" height="0.8" fill="#cfcfcf"/>
<path d="M204.0 613.5 Q205.2 616 204.3 619 Q203.8 621 204.6 622.5" fill="none" stroke="#c8c8c8" stroke-width="0.6"/>
<rect x="243" y="601.2" width="30.6" height="28.6" fill="#939393"/>
<rect x="244.3" y="628" width="4.8" height="0.8" fill="#cfcfcf"/>
<path d="M254.3 606.2 Q253.2 613 255.5 618.5 Q257.5 622.3 260.6 623.6" fill="none" stroke="#d8d8d8" stroke-width="0.7"/>
<circle cx="260.4" cy="623.4" r="0.9" fill="#333"/>
<rect x="279.2" y="534" width="30.8" height="10.8" fill="#939393"/>
<rect x="280.5" y="543" width="4.8" height="0.8" fill="#cfcfcf"/>
<circle cx="295" cy="539.2" r="0.6" fill="#e8e8e8"/>
<rect x="304" y="551.9" width="31" height="11.6" fill="#939393"/>
<rect x="305.3" y="561.7" width="4.8" height="0.8" fill="#cfcfcf"/>
<circle cx="319.0" cy="557.4" r="1.5" fill="#b5b5b5" stroke="#e4e4e4" stroke-width="0.6"/>
<rect x="306" y="598.7" width="31" height="12.1" fill="#939393"/>
<rect x="307.3" y="609" width="4.8" height="0.8" fill="#cfcfcf"/>
<circle cx="321.0" cy="604.7" r="1.4" fill="#a5a5a5" stroke="#e0e0e0" stroke-width="0.6"/>
<rect x="328.8" y="619.4" width="30.9" height="13" fill="#939393"/>
<rect x="330.1" y="630.6" width="4.8" height="0.8" fill="#cfcfcf"/>
<circle cx="343.6" cy="625.5" r="2.2" fill="#a0a0a0" stroke="#e0e0e0" stroke-width="0.6"/>
<line x1="181" y1="566.4" x2="171.25" y2="571.88" stroke="#111" stroke-width="0.9"/>
<path d="M168.9 573.2 L170.8 570.47 L172.23 572.99 Z" fill="#111"/>
<line x1="204.9" y1="630.2" x2="195.18" y2="635.42" stroke="#111" stroke-width="0.9"/>
<path d="M192.8 636.7 L194.76 634 L196.13 636.56 Z" fill="#111"/>
<line x1="256.8" y1="633.6" x2="247.07" y2="638.91" stroke="#111" stroke-width="0.9"/>
<path d="M244.7 640.2 L246.64 637.49 L248.03 640.04 Z" fill="#111"/>
<line x1="317" y1="565.5" x2="307.1" y2="570.57" stroke="#111" stroke-width="0.9"/>
<path d="M304.7 571.8 L306.71 569.14 L308.03 571.72 Z" fill="#111"/>
<line x1="320.2" y1="613.9" x2="310.77" y2="619.01" stroke="#111" stroke-width="0.9"/>
<path d="M308.4 620.3 L310.35 617.6 L311.73 620.14 Z" fill="#111"/>
<line x1="344.1" y1="635.9" x2="323.63" y2="640.51" stroke="#111" stroke-width="0.9"/>
<path d="M321 641.1 L323.61 639.03 L324.25 641.86 Z" fill="#111"/>
<line x1="155.5" y1="539.4" x2="155.5" y2="626.4" stroke="#555" stroke-width="1"/>
<path d="M155.7 629.3 L154.2 626.1 L157.2 626.1 Z" fill="#555"/>
<line x1="291.5" y1="545.8" x2="291.5" y2="626" stroke="#4a4a4a" stroke-width="1"/>
<path d="M291.3 628.9 L289.8 625.7 L292.8 625.7 Z" fill="#4a4a4a"/>
<rect x="0.6" y="0.6" width="518.8" height="675.8" fill="none" stroke="#000" stroke-width="1.2"/>
</svg>
</body></html>
